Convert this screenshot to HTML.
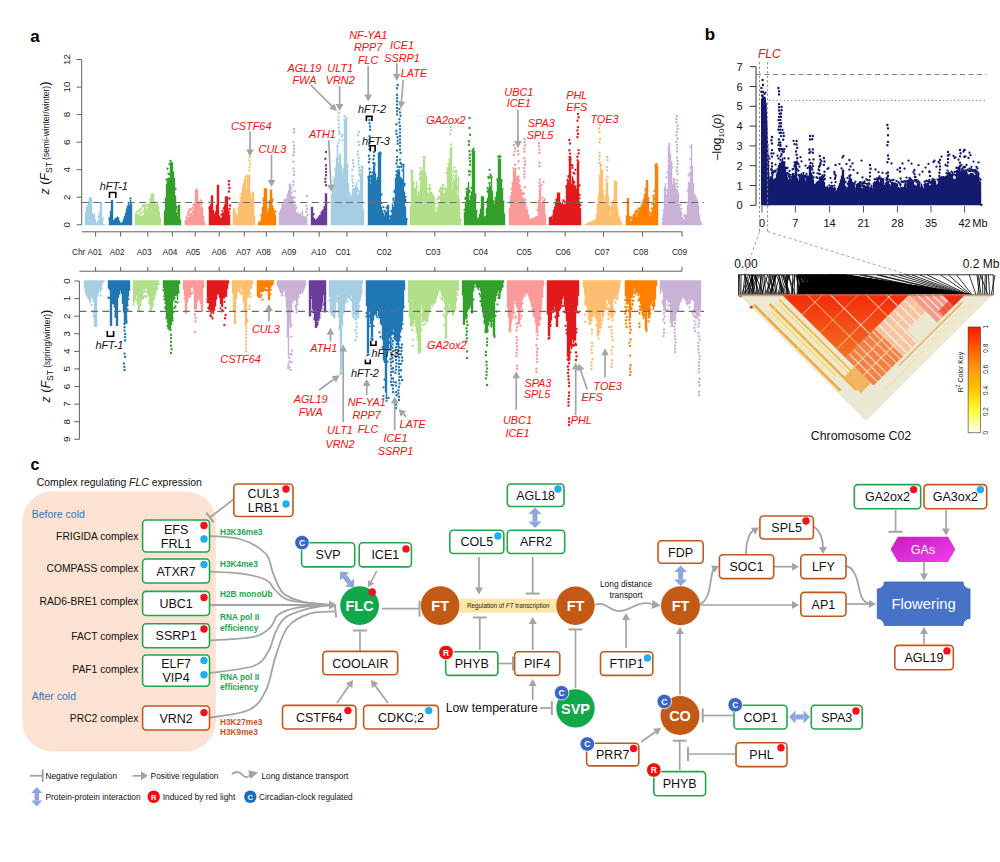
<!DOCTYPE html>
<html><head><meta charset="utf-8"><style>
html,body{margin:0;padding:0;background:#fff;width:1000px;height:862px;overflow:hidden}
svg{display:block;font-family:"Liberation Sans", sans-serif}
</style></head><body>
<svg width="1000" height="862" viewBox="0 0 1000 862">
<rect width="1000" height="862" fill="#fff"/>
<path d="M85.5 225.2V212.0M86.5 225.2V206.6M87.5 225.2V205.1M88.5 225.2V203.8M89.5 225.2V197.2M90.5 225.2V197.2M91.5 225.2V197.2M92.5 225.2V213.1M93.5 225.2V213.9M94.5 225.2V213.7M95.5 225.2V219.2M96.5 225.2V223.2M97.5 225.2V221.5M98.5 225.2V219.6M99.5 225.2V215.5M100.5 225.2V202.0M101.5 225.2V202.0M102.5 225.2V220.2M103.5 225.2V223.8M104.5 225.2V224.3M105.5 225.2V224.7" stroke="#a6cee3" stroke-width="1.4" fill="none"/><path d="M88.5 202.7h0M98.5 217.0h0M99.5 213.7h0M99.5 214.8h0M99.5 214.0h0M102.5 218.3h0M102.5 218.9h0M102.5 219.5h0" stroke="#a6cee3" stroke-width="2.3" stroke-linecap="round" fill="none"/>
<path d="" stroke="#a6cee3" stroke-width="2.4" stroke-linecap="round" fill="none"/>
<path d="M109.5 225.2V220.1M110.5 225.2V210.9M111.5 225.2V200.0M112.5 225.2V200.0M113.5 225.2V220.4M114.5 225.2V219.3M115.5 225.2V217.9M116.5 225.2V217.4M117.5 225.2V216.5M118.5 225.2V217.6M119.5 225.2V220.6M120.5 225.2V222.4M121.5 225.2V222.9M122.5 225.2V221.8M123.5 225.2V218.8M124.5 225.2V215.9M125.5 225.2V212.8M126.5 225.2V208.5M127.5 225.2V205.5M128.5 225.2V203.1M129.5 225.2V207.7M130.5 225.2V199.7M131.5 225.2V203.5" stroke="#1f78b4" stroke-width="1.4" fill="none"/><path d="M109.5 219.4h0M109.5 218.5h0M129.5 206.3h0M129.5 207.2h0M130.5 198.4h0" stroke="#1f78b4" stroke-width="2.3" stroke-linecap="round" fill="none"/>
<path d="" stroke="#1f78b4" stroke-width="2.4" stroke-linecap="round" fill="none"/>
<path d="M135.5 225.2V213.0M136.5 225.2V211.6M137.5 225.2V215.6M138.5 225.2V215.0M139.5 225.2V214.6M140.5 225.2V216.2M141.5 225.2V215.7M142.5 225.2V215.2M143.5 225.2V214.9M144.5 225.2V205.0M145.5 225.2V204.0M146.5 225.2V210.5M147.5 225.2V210.1M148.5 225.2V209.5M149.5 225.2V202.1M150.5 225.2V200.6M151.5 225.2V193.3M152.5 225.2V193.3M153.5 225.2V193.3M154.5 225.2V200.9M155.5 225.2V206.7M156.5 225.2V206.9M157.5 225.2V203.0M158.5 225.2V206.0M159.5 225.2V211.5M160.5 225.2V217.7" stroke="#b2df8a" stroke-width="1.4" fill="none"/><path d="M137.5 215.1h0M137.5 211.3h0M139.5 210.3h0M139.5 211.6h0M140.5 208.8h0M140.5 209.5h0M140.5 213.8h0M141.5 213.2h0M142.5 206.3h0M142.5 206.8h0M143.5 211.5h0M143.5 204.9h0M143.5 211.2h0M146.5 205.6h0M147.5 208.8h0M147.5 204.8h0M147.5 204.5h0M148.5 205.6h0M148.5 209.1h0M148.5 206.9h0M150.5 198.6h0M150.5 199.7h0M150.5 199.7h0M155.5 204.8h0M156.5 205.0h0M156.5 205.9h0M156.5 206.4h0" stroke="#b2df8a" stroke-width="2.3" stroke-linecap="round" fill="none"/>
<path d="" stroke="#b2df8a" stroke-width="2.4" stroke-linecap="round" fill="none"/>
<path d="M164.5 225.2V210.5M165.5 225.2V198.1M166.5 225.2V183.7M167.5 225.2V179.6M168.5 225.2V179.2M169.5 225.2V177.7M170.5 225.2V162.6M171.5 225.2V161.7M172.5 225.2V162.6M173.5 225.2V171.6M174.5 225.2V177.7M175.5 225.2V195.6M176.5 225.2V212.1M177.5 225.2V215.4M178.5 225.2V204.8M179.5 225.2V204.8M180.5 225.2V219.4" stroke="#33a02c" stroke-width="1.4" fill="none"/><path d="M166.5 179.7h0M167.5 168.6h0M167.5 168.8h0M167.5 179.4h0M168.5 178.7h0M168.5 174.0h0M169.5 174.0h0M169.5 164.2h0M170.5 160.9h0M175.5 188.9h0M176.5 206.6h0M176.5 208.0h0M177.5 210.5h0M177.5 213.3h0" stroke="#33a02c" stroke-width="2.3" stroke-linecap="round" fill="none"/>
<path d="" stroke="#33a02c" stroke-width="2.4" stroke-linecap="round" fill="none"/>
<path d="M185.5 225.2V221.2M186.5 225.2V219.7M187.5 225.2V218.6M188.5 225.2V217.0M189.5 225.2V216.7M190.5 225.2V215.7M191.5 225.2V215.1M192.5 225.2V215.0M193.5 225.2V209.4M194.5 225.2V205.6M195.5 225.2V189.5M196.5 225.2V188.4M197.5 225.2V189.5M198.5 225.2V201.1M199.5 225.2V202.3M200.5 225.2V207.1M201.5 225.2V199.9M202.5 225.2V207.4M203.5 225.2V216.0M204.5 225.2V221.5M205.5 225.2V224.7" stroke="#fb9a99" stroke-width="1.4" fill="none"/><path d="M185.5 220.9h0M186.5 217.8h0M186.5 217.1h0M187.5 214.8h0M188.5 211.5h0M188.5 212.8h0M189.5 215.0h0M189.5 209.3h0M189.5 214.7h0M190.5 210.0h0M191.5 208.8h0M191.5 214.2h0M192.5 208.0h0M192.5 211.9h0M193.5 205.2h0M194.5 203.6h0M200.5 200.3h0M200.5 203.3h0" stroke="#fb9a99" stroke-width="2.3" stroke-linecap="round" fill="none"/>
<path d="" stroke="#fb9a99" stroke-width="2.4" stroke-linecap="round" fill="none"/>
<path d="M209.5 225.2V209.0M210.5 225.2V204.0M211.5 225.2V195.2M212.5 225.2V195.2M213.5 225.2V210.1M214.5 225.2V214.1M215.5 225.2V211.4M216.5 225.2V204.4M217.5 225.2V184.7M218.5 225.2V184.7M219.5 225.2V215.6M220.5 225.2V218.1M221.5 225.2V217.3M222.5 225.2V214.3M223.5 225.2V212.3M224.5 225.2V204.6M225.5 225.2V196.2M226.5 225.2V196.2M227.5 225.2V196.2M228.5 225.2V210.4M229.5 225.2V217.2M230.5 225.2V225.1" stroke="#e31a1c" stroke-width="1.4" fill="none"/><path d="M209.5 207.5h0M209.5 208.4h0M221.5 214.6h0M222.5 211.1h0M222.5 214.0h0M223.5 208.3h0M223.5 208.3h0" stroke="#e31a1c" stroke-width="2.3" stroke-linecap="round" fill="none"/>
<path d="M229.5 216.0h0M228.9 212.5h0M229.5 209.0h0M230.1 205.5h0M229.5 198.5h0M228.9 191.5h0M229.5 188.0h0M228.9 184.5h0M228.9 181.0h0" stroke="#e31a1c" stroke-width="2.4" stroke-linecap="round" fill="none"/>
<path d="M233.5 225.2V207.7M234.5 225.2V207.7M235.5 225.2V211.7M236.5 225.2V214.9M237.5 225.2V213.7M238.5 225.2V210.0M239.5 225.2V205.1M240.5 225.2V199.5M241.5 225.2V195.8M242.5 225.2V187.1M243.5 225.2V182.6M244.5 225.2V178.9M245.5 225.2V178.2M246.5 225.2V189.2M247.5 225.2V176.9M248.5 225.2V175.4M249.5 225.2V174.5M250.5 225.2V192.7M251.5 225.2V198.4M252.5 225.2V191.4M253.5 225.2V191.4M254.5 225.2V216.0" stroke="#fdbf6f" stroke-width="1.4" fill="none"/><path d="M238.5 208.0h0M238.5 209.9h0M239.5 204.2h0M239.5 203.2h0M240.5 197.7h0M241.5 194.1h0M241.5 193.5h0M245.5 177.0h0M247.5 176.0h0M247.5 175.5h0" stroke="#fdbf6f" stroke-width="2.3" stroke-linecap="round" fill="none"/>
<path d="M249.5 170.6h0M249.5 167.2h0M250.1 163.8h0M249.5 160.4h0M249.5 157.0h0" stroke="#fdbf6f" stroke-width="2.4" stroke-linecap="round" fill="none"/>
<path d="M258.5 225.2V222.3M259.5 225.2V221.5M260.5 225.2V220.5M261.5 225.2V216.6M262.5 225.2V207.1M263.5 225.2V200.4M264.5 225.2V188.5M265.5 225.2V188.1M266.5 225.2V188.5M267.5 225.2V213.2M268.5 225.2V214.1M269.5 225.2V199.9M270.5 225.2V189.5M271.5 225.2V189.5M272.5 225.2V205.1M273.5 225.2V208.1M274.5 225.2V211.5M275.5 225.2V214.7" stroke="#ff7f00" stroke-width="1.4" fill="none"/><path d="M261.5 215.6h0M261.5 215.5h0M261.5 215.2h0M263.5 200.4h0M263.5 198.3h0M268.5 209.8h0M268.5 212.9h0M268.5 210.8h0M272.5 199.4h0M272.5 200.8h0M275.5 211.5h0" stroke="#ff7f00" stroke-width="2.3" stroke-linecap="round" fill="none"/>
<path d="" stroke="#ff7f00" stroke-width="2.4" stroke-linecap="round" fill="none"/>
<path d="M279.5 225.2V212.2M280.5 225.2V209.7M281.5 225.2V208.1M282.5 225.2V206.9M283.5 225.2V204.8M284.5 225.2V202.6M285.5 225.2V199.4M286.5 225.2V198.0M287.5 225.2V195.0M288.5 225.2V190.2M289.5 225.2V183.7M290.5 225.2V183.7M291.5 225.2V195.6M292.5 225.2V196.4M293.5 225.2V204.8M294.5 225.2V205.4M295.5 225.2V207.8M296.5 225.2V212.2M297.5 225.2V211.9M298.5 225.2V217.8M299.5 225.2V213.7M300.5 225.2V212.6M301.5 225.2V217.4M302.5 225.2V210.5M303.5 225.2V217.4M304.5 225.2V218.9M305.5 225.2V220.3M306.5 225.2V222.3M307.5 225.2V224.1" stroke="#cab2d6" stroke-width="1.4" fill="none"/><path d="M282.5 206.8h0M282.5 204.3h0M282.5 206.0h0M284.5 202.3h0M284.5 200.6h0M284.5 200.1h0M287.5 194.8h0M291.5 188.4h0M291.5 192.5h0M293.5 197.5h0M293.5 200.9h0M294.5 205.0h0M294.5 197.7h0M295.5 205.5h0M296.5 207.7h0M298.5 214.8h0M298.5 216.3h0M301.5 216.6h0M303.5 217.4h0M304.5 218.9h0M304.5 217.2h0M305.5 217.4h0M306.5 221.5h0M306.5 220.2h0" stroke="#cab2d6" stroke-width="2.3" stroke-linecap="round" fill="none"/>
<path d="M294.6 191.3h0M293.4 184.8h0M293.4 181.5h0M294.0 174.9h0M294.0 171.6h0M293.4 168.4h0M293.4 161.8h0M293.4 155.2h0M294.0 152.0h0M294.0 148.7h0M294.0 145.4h0M293.4 142.1h0M294.0 132.3h0M294.0 129.0h0M306.4 218.5h0M307.6 215.2h0M306.4 212.0h0M307.0 208.8h0M306.4 205.6h0M307.0 196.0h0" stroke="#cab2d6" stroke-width="2.4" stroke-linecap="round" fill="none"/>
<path d="M311.5 225.2V206.8M312.5 225.2V206.8M313.5 225.2V216.8M314.5 225.2V218.3M315.5 225.2V219.8M316.5 225.2V218.9M317.5 225.2V217.8M318.5 225.2V216.6M319.5 225.2V215.1M320.5 225.2V214.4M321.5 225.2V213.1M322.5 225.2V210.1M323.5 225.2V208.7M324.5 225.2V207.4M325.5 225.2V193.3M326.5 225.2V193.3" stroke="#6a3d9a" stroke-width="1.4" fill="none"/><path d="M313.5 214.5h0M313.5 213.9h0M321.5 212.7h0M321.5 212.6h0M324.5 207.1h0" stroke="#6a3d9a" stroke-width="2.3" stroke-linecap="round" fill="none"/>
<path d="M326.0 185.3h0M325.4 182.0h0M325.4 178.7h0M326.0 175.3h0M326.0 172.0h0M326.0 168.7h0M326.0 165.3h0M325.4 158.7h0M326.0 152.0h0" stroke="#6a3d9a" stroke-width="2.4" stroke-linecap="round" fill="none"/>
<path d="M331.5 225.2V196.7M332.5 225.2V189.1M333.5 225.2V183.4M334.5 225.2V180.1M335.5 225.2V172.2M336.5 225.2V157.3M337.5 225.2V147.4M338.5 225.2V162.5M339.5 225.2V154.5M340.5 225.2V153.3M341.5 225.2V165.3M342.5 225.2V172.0M343.5 225.2V169.2M344.5 225.2V120.4M345.5 225.2V120.1M346.5 225.2V120.4M347.5 225.2V168.5M348.5 225.2V183.3M349.5 225.2V194.3M350.5 225.2V194.4M351.5 225.2V196.5M352.5 225.2V197.0M353.5 225.2V194.4M354.5 225.2V189.4M355.5 225.2V185.4M356.5 225.2V181.9M357.5 225.2V195.5M358.5 225.2V193.4M359.5 225.2V191.3M360.5 225.2V175.2M361.5 225.2V168.4M362.5 225.2V168.4M363.5 225.2V209.3" stroke="#a6cee3" stroke-width="1.4" fill="none"/><path d="M331.5 195.5h0M332.5 188.5h0M333.5 181.5h0M334.5 178.3h0M334.5 179.8h0M334.5 177.6h0M335.5 169.1h0M335.5 168.5h0M335.5 170.8h0M337.5 146.8h0M337.5 145.7h0M338.5 158.8h0M338.5 142.7h0M339.5 134.2h0M339.5 133.0h0M339.5 140.0h0M341.5 136.6h0M342.5 140.4h0M342.5 134.9h0M343.5 169.1h0M344.5 116.2h0M344.5 120.0h0M344.5 120.0h0M345.5 119.5h0M346.5 120.3h0M346.5 117.9h0M347.5 167.0h0M347.5 165.2h0M347.5 166.6h0M349.5 192.7h0M352.5 196.1h0M352.5 194.6h0M353.5 193.2h0M353.5 190.5h0M353.5 194.1h0M354.5 189.1h0M357.5 188.8h0M357.5 188.5h0M357.5 191.0h0M358.5 180.7h0M358.5 191.2h0M359.5 175.2h0M359.5 174.0h0M360.5 170.5h0M360.5 174.9h0M361.5 166.6h0M362.5 166.6h0M362.5 167.9h0" stroke="#a6cee3" stroke-width="2.3" stroke-linecap="round" fill="none"/>
<path d="M339.0 131.0h0M339.0 127.4h0M339.0 123.8h0M338.4 120.2h0M338.4 116.6h0M339.0 113.0h0M359.1 170.8h0M359.1 167.5h0M358.5 164.3h0M358.5 161.1h0M358.5 157.8h0M357.9 154.6h0M357.9 151.4h0M359.1 144.9h0M358.5 141.7h0M357.9 135.2h0M359.1 132.0h0M353.0 192.3h0M353.0 189.1h0M353.0 185.9h0M353.0 182.6h0M352.4 179.4h0M352.4 176.2h0M352.4 169.7h0M353.6 166.5h0M353.0 163.2h0M353.0 160.0h0" stroke="#a6cee3" stroke-width="2.4" stroke-linecap="round" fill="none"/>
<path d="M367.5 225.2V225.0M368.5 225.2V177.8M369.5 225.2V172.7M370.5 225.2V183.3M371.5 225.2V174.8M372.5 225.2V174.5M373.5 225.2V165.5M374.5 225.2V165.5M375.5 225.2V172.9M376.5 225.2V180.0M377.5 225.2V176.9M378.5 225.2V154.9M379.5 225.2V154.9M380.5 225.2V154.9M381.5 225.2V206.6M382.5 225.2V210.2M383.5 225.2V213.1M384.5 225.2V215.6M385.5 225.2V213.3M386.5 225.2V211.9M387.5 225.2V204.8M388.5 225.2V204.8M389.5 225.2V218.8M390.5 225.2V218.2M391.5 225.2V214.5M392.5 225.2V203.8M393.5 225.2V207.0M394.5 225.2V200.7M395.5 225.2V178.0M396.5 225.2V175.7M397.5 225.2V170.4M398.5 225.2V171.2M399.5 225.2V170.4M400.5 225.2V179.0M401.5 225.2V179.5M402.5 225.2V179.2M403.5 225.2V166.6M404.5 225.2V191.5M405.5 225.2V206.4M406.5 225.2V220.1" stroke="#1f78b4" stroke-width="1.4" fill="none"/><path d="M368.5 176.6h0M368.5 177.6h0M370.5 176.5h0M370.5 180.4h0M372.5 172.7h0M374.5 164.3h0M374.5 165.0h0M374.5 163.3h0M378.5 153.8h0M379.5 154.4h0M379.5 152.7h0M380.5 153.6h0M380.5 154.9h0M380.5 152.7h0M381.5 203.1h0M381.5 194.5h0M383.5 207.1h0M384.5 211.0h0M385.5 213.3h0M385.5 211.9h0M385.5 213.3h0M386.5 207.8h0M389.5 216.3h0M390.5 216.8h0M390.5 217.2h0M391.5 211.5h0M391.5 210.8h0M393.5 200.1h0M393.5 198.5h0M394.5 190.7h0M394.5 192.1h0M396.5 175.0h0M396.5 171.3h0M398.5 170.2h0M398.5 170.0h0M399.5 167.2h0M400.5 178.0h0M401.5 166.8h0M401.5 164.3h0M401.5 179.4h0M402.5 170.4h0M403.5 164.8h0M403.5 165.3h0M403.5 165.7h0M404.5 183.8h0M404.5 185.4h0M405.5 201.9h0M405.5 197.0h0M405.5 200.0h0M406.5 219.0h0M406.5 219.8h0" stroke="#1f78b4" stroke-width="2.3" stroke-linecap="round" fill="none"/>
<path d="M370.1 172.0h0M369.5 168.8h0M368.9 162.2h0M369.5 159.0h0M368.9 155.8h0M369.5 149.2h0M369.5 146.0h0M369.5 142.8h0M369.5 139.5h0M369.5 136.2h0M370.1 129.8h0M370.1 126.5h0M369.5 123.2h0M369.5 120.0h0M373.4 163.0h0M373.4 159.3h0M374.0 155.7h0M374.0 152.0h0M397.6 166.7h0M396.4 163.5h0M397.0 160.2h0M397.0 156.9h0M397.0 150.4h0M397.6 143.8h0M397.6 140.6h0M397.6 137.3h0M396.4 134.0h0M396.4 130.8h0M396.4 124.2h0M397.0 114.4h0M397.0 111.2h0M397.0 107.9h0M397.0 104.6h0M397.0 101.3h0M397.0 98.1h0M397.0 94.8h0M397.0 88.3h0M397.6 85.0h0M400.6 163.0h0M400.0 159.6h0M400.6 152.9h0M400.0 149.5h0M400.0 146.1h0M400.0 142.8h0M400.0 139.4h0M400.0 136.0h0M400.0 132.6h0M400.0 129.2h0M400.0 125.9h0M399.4 122.5h0M399.4 119.1h0M400.6 115.8h0M400.0 112.4h0M399.4 109.0h0" stroke="#1f78b4" stroke-width="2.4" stroke-linecap="round" fill="none"/>
<path d="M410.5 225.2V206.0M411.5 225.2V172.2M412.5 225.2V172.2M413.5 225.2V183.3M414.5 225.2V188.7M415.5 225.2V189.8M416.5 225.2V180.9M417.5 225.2V195.9M418.5 225.2V191.5M419.5 225.2V190.4M420.5 225.2V170.4M421.5 225.2V169.2M422.5 225.2V171.2M423.5 225.2V158.8M424.5 225.2V158.8M425.5 225.2V174.3M426.5 225.2V175.9M427.5 225.2V192.1M428.5 225.2V193.6M429.5 225.2V188.6M430.5 225.2V191.9M431.5 225.2V191.4M432.5 225.2V193.8M433.5 225.2V194.7M434.5 225.2V197.2M435.5 225.2V211.3M436.5 225.2V212.1M437.5 225.2V210.6M438.5 225.2V204.2M439.5 225.2V202.0M440.5 225.2V190.8M441.5 225.2V187.0M442.5 225.2V185.8M443.5 225.2V194.3M444.5 225.2V192.5M445.5 225.2V191.1M446.5 225.2V188.0M447.5 225.2V169.1M448.5 225.2V165.1M449.5 225.2V159.7M450.5 225.2V151.1M451.5 225.2V151.1M452.5 225.2V189.6M453.5 225.2V178.2M454.5 225.2V180.1M455.5 225.2V174.7M456.5 225.2V172.8M457.5 225.2V194.9M458.5 225.2V181.2M459.5 225.2V199.1M460.5 225.2V220.6" stroke="#b2df8a" stroke-width="1.4" fill="none"/><path d="M411.5 171.8h0M411.5 170.5h0M411.5 170.4h0M412.5 171.8h0M413.5 181.9h0M413.5 183.2h0M413.5 182.9h0M415.5 189.0h0M417.5 187.1h0M419.5 178.3h0M419.5 174.1h0M420.5 168.0h0M423.5 157.2h0M424.5 157.5h0M424.5 157.0h0M424.5 156.9h0M425.5 173.3h0M427.5 188.9h0M429.5 188.4h0M429.5 185.0h0M429.5 187.4h0M430.5 188.8h0M435.5 203.8h0M436.5 208.2h0M437.5 199.5h0M437.5 210.5h0M438.5 203.2h0M438.5 198.8h0M438.5 197.2h0M439.5 191.2h0M439.5 197.1h0M440.5 189.2h0M440.5 187.8h0M442.5 185.2h0M443.5 193.9h0M443.5 188.6h0M443.5 184.8h0M444.5 187.9h0M444.5 189.4h0M445.5 189.7h0M446.5 173.2h0M447.5 168.1h0M448.5 164.2h0M449.5 159.1h0M450.5 149.6h0M450.5 149.7h0M451.5 150.2h0M452.5 177.5h0M452.5 183.7h0M452.5 171.6h0M453.5 174.8h0M454.5 167.4h0M454.5 171.5h0M455.5 171.4h0M455.5 172.1h0M456.5 170.9h0M456.5 170.9h0M457.5 188.9h0M457.5 186.8h0M458.5 180.5h0M458.5 178.1h0M460.5 219.5h0M460.5 220.5h0" stroke="#b2df8a" stroke-width="2.3" stroke-linecap="round" fill="none"/>
<path d="M451.6 148.0h0M451.0 144.5h0M450.4 134.0h0M451.0 130.5h0M451.0 127.0h0" stroke="#b2df8a" stroke-width="2.4" stroke-linecap="round" fill="none"/>
<path d="M464.5 225.2V212.0M465.5 225.2V201.9M466.5 225.2V190.9M467.5 225.2V189.2M468.5 225.2V181.8M469.5 225.2V200.3M470.5 225.2V195.6M471.5 225.2V191.5M472.5 225.2V151.1M473.5 225.2V151.1M474.5 225.2V151.1M475.5 225.2V198.3M476.5 225.2V211.4M477.5 225.2V218.7M478.5 225.2V220.6M479.5 225.2V213.8M480.5 225.2V208.4M481.5 225.2V196.2M482.5 225.2V196.2M483.5 225.2V196.2M484.5 225.2V217.2M485.5 225.2V217.1M486.5 225.2V207.8M487.5 225.2V197.9M488.5 225.2V189.6M489.5 225.2V183.1M490.5 225.2V186.6M491.5 225.2V178.1M492.5 225.2V190.7M493.5 225.2V201.8M494.5 225.2V203.8M495.5 225.2V198.6M496.5 225.2V191.4M497.5 225.2V180.7M498.5 225.2V158.8M499.5 225.2V158.8M500.5 225.2V158.8M501.5 225.2V181.2M502.5 225.2V190.7M503.5 225.2V202.1M504.5 225.2V213.6" stroke="#33a02c" stroke-width="1.4" fill="none"/><path d="M464.5 209.8h0M465.5 198.1h0M465.5 199.0h0M466.5 188.9h0M467.5 188.7h0M469.5 190.9h0M469.5 192.0h0M470.5 171.6h0M471.5 187.8h0M472.5 150.7h0M473.5 149.0h0M473.5 151.1h0M475.5 197.7h0M475.5 195.6h0M475.5 194.7h0M476.5 211.0h0M478.5 219.5h0M478.5 218.6h0M478.5 218.3h0M485.5 216.9h0M485.5 216.9h0M486.5 202.0h0M486.5 202.4h0M487.5 188.2h0M487.5 191.5h0M488.5 189.1h0M488.5 177.9h0M488.5 176.9h0M489.5 169.8h0M489.5 183.1h0M489.5 177.7h0M490.5 175.1h0M490.5 174.6h0M491.5 176.9h0M493.5 201.8h0M493.5 201.1h0M493.5 201.6h0M495.5 198.1h0M497.5 179.5h0M497.5 180.3h0M498.5 156.4h0M498.5 157.3h0M499.5 157.0h0M500.5 156.5h0M501.5 180.2h0M501.5 180.7h0M501.5 180.9h0M502.5 189.4h0M503.5 201.6h0" stroke="#33a02c" stroke-width="2.3" stroke-linecap="round" fill="none"/>
<path d="M469.5 174.7h0M468.9 171.3h0M470.1 164.7h0M470.1 161.3h0M469.5 158.0h0M470.1 154.7h0M469.5 151.3h0M468.9 144.7h0M468.9 141.3h0M470.1 134.7h0M469.5 128.0h0M469.5 118.0h0" stroke="#33a02c" stroke-width="2.4" stroke-linecap="round" fill="none"/>
<path d="M509.5 225.2V208.0M510.5 225.2V200.4M511.5 225.2V191.9M512.5 225.2V184.1M513.5 225.2V170.3M514.5 225.2V170.3M515.5 225.2V170.3M516.5 225.2V178.8M517.5 225.2V177.9M518.5 225.2V180.6M519.5 225.2V184.0M520.5 225.2V188.6M521.5 225.2V193.0M522.5 225.2V196.9M523.5 225.2V199.8M524.5 225.2V201.8M525.5 225.2V208.8M526.5 225.2V206.3M527.5 225.2V209.5M528.5 225.2V214.0M529.5 225.2V217.9M530.5 225.2V219.3M531.5 225.2V218.6M532.5 225.2V218.4M533.5 225.2V217.6M534.5 225.2V217.4M535.5 225.2V216.6M536.5 225.2V216.1M537.5 225.2V216.0M538.5 225.2V199.6M539.5 225.2V189.0M540.5 225.2V188.9M541.5 225.2V203.4M542.5 225.2V203.1M543.5 225.2V202.5M544.5 225.2V200.9M545.5 225.2V214.1" stroke="#fb9a99" stroke-width="1.4" fill="none"/><path d="M510.5 197.1h0M510.5 200.1h0M510.5 200.1h0M511.5 189.1h0M512.5 182.9h0M513.5 168.1h0M513.5 168.4h0M514.5 169.5h0M515.5 169.4h0M515.5 168.8h0M516.5 178.6h0M517.5 177.6h0M517.5 177.1h0M518.5 179.7h0M518.5 176.3h0M518.5 177.1h0M519.5 180.6h0M520.5 186.6h0M521.5 190.4h0M522.5 194.2h0M522.5 193.2h0M523.5 198.4h0M525.5 205.3h0M525.5 203.4h0M537.5 210.0h0M540.5 185.7h0M540.5 188.2h0M541.5 184.8h0M542.5 197.7h0M543.5 182.0h0M543.5 201.4h0M544.5 199.3h0M544.5 199.7h0" stroke="#fb9a99" stroke-width="2.3" stroke-linecap="round" fill="none"/>
<path d="M515.1 164.7h0M513.9 154.9h0M514.5 151.6h0M515.1 148.3h0M513.9 145.0h0M519.1 168.1h0M518.5 161.3h0M518.5 154.4h0M517.9 151.0h0M525.1 200.0h0M523.9 193.6h0M525.1 187.2h0M524.5 177.5h0M524.5 174.3h0M524.5 171.1h0M523.9 167.9h0M525.1 164.7h0M525.1 161.5h0M524.5 158.3h0M524.5 151.8h0M523.9 148.6h0M525.1 145.4h0M524.5 142.2h0M524.5 139.0h0M539.5 186.0h0M539.5 182.7h0M540.1 179.4h0M539.5 166.2h0M539.5 162.8h0M539.5 152.9h0M539.5 149.6h0M538.9 146.3h0M538.9 143.0h0" stroke="#fb9a99" stroke-width="2.4" stroke-linecap="round" fill="none"/>
<path d="M549.5 225.2V216.9M550.5 225.2V216.9M551.5 225.2V216.4M552.5 225.2V218.2M553.5 225.2V210.1M554.5 225.2V206.8M555.5 225.2V202.9M556.5 225.2V200.0M557.5 225.2V192.4M558.5 225.2V192.4M559.5 225.2V192.4M560.5 225.2V202.3M561.5 225.2V203.9M562.5 225.2V201.7M563.5 225.2V204.8M564.5 225.2V203.7M565.5 225.2V204.2M566.5 225.2V187.8M567.5 225.2V181.7M568.5 225.2V182.7M569.5 225.2V159.7M570.5 225.2V159.7M571.5 225.2V183.8M572.5 225.2V176.2M573.5 225.2V179.4M574.5 225.2V186.3M575.5 225.2V186.4M576.5 225.2V188.7M577.5 225.2V162.6M578.5 225.2V162.6M579.5 225.2V201.3M580.5 225.2V208.2" stroke="#e31a1c" stroke-width="1.4" fill="none"/><path d="M552.5 216.5h0M556.5 199.4h0M556.5 200.0h0M563.5 200.4h0M564.5 201.6h0M566.5 187.2h0M566.5 185.8h0M566.5 186.8h0M567.5 180.2h0M567.5 179.8h0M568.5 176.0h0M568.5 176.9h0M568.5 181.8h0M569.5 159.3h0M569.5 159.4h0M569.5 157.1h0M570.5 159.4h0M570.5 158.3h0M571.5 164.9h0M572.5 165.4h0M572.5 167.9h0M573.5 172.9h0M573.5 172.9h0M574.5 173.7h0M574.5 182.3h0M575.5 185.8h0M575.5 169.8h0M577.5 160.3h0M578.5 161.9h0M579.5 198.3h0M579.5 185.5h0M579.5 195.0h0M580.5 205.2h0" stroke="#e31a1c" stroke-width="2.3" stroke-linecap="round" fill="none"/>
<path d="M570.0 157.0h0M570.0 153.6h0M569.4 150.2h0M570.0 143.4h0M569.4 140.0h0M577.4 156.7h0M578.6 153.4h0M578.6 150.1h0M577.4 137.0h0M578.0 133.7h0M577.4 130.4h0M578.0 127.1h0M577.4 120.6h0M578.6 117.3h0M578.0 114.0h0" stroke="#e31a1c" stroke-width="2.4" stroke-linecap="round" fill="none"/>
<path d="M584.5 225.2V225.0M585.5 225.2V224.3M586.5 225.2V223.7M587.5 225.2V222.9M588.5 225.2V222.3M589.5 225.2V221.5M590.5 225.2V222.1M591.5 225.2V221.8M592.5 225.2V220.6M593.5 225.2V220.4M594.5 225.2V220.0M595.5 225.2V219.5M596.5 225.2V214.2M597.5 225.2V203.2M598.5 225.2V194.9M599.5 225.2V177.7M600.5 225.2V163.3M601.5 225.2V169.4M602.5 225.2V169.4M603.5 225.2V193.9M604.5 225.2V203.5M605.5 225.2V194.9M606.5 225.2V181.8M607.5 225.2V181.8M608.5 225.2V195.6M609.5 225.2V205.6M610.5 225.2V215.6M611.5 225.2V204.5M612.5 225.2V205.8M613.5 225.2V201.5M614.5 225.2V180.8M615.5 225.2V180.8M616.5 225.2V180.8M617.5 225.2V206.8M618.5 225.2V215.0M619.5 225.2V217.1M620.5 225.2V219.9M621.5 225.2V222.5" stroke="#fdbf6f" stroke-width="1.4" fill="none"/><path d="M599.5 176.1h0M601.5 165.4h0M603.5 191.4h0M610.5 209.7h0M610.5 208.3h0M612.5 204.6h0M613.5 200.8h0" stroke="#fdbf6f" stroke-width="2.3" stroke-linecap="round" fill="none"/>
<path d="M599.5 163.0h0M599.5 159.5h0M599.5 156.1h0M599.5 152.6h0M599.5 142.3h0M600.1 138.8h0M599.5 131.9h0M598.9 128.5h0M600.1 125.0h0M606.4 180.0h0M607.6 176.7h0M607.0 170.1h0M607.0 166.9h0M607.6 160.3h0M607.0 157.0h0" stroke="#fdbf6f" stroke-width="2.4" stroke-linecap="round" fill="none"/>
<path d="M625.5 225.2V225.0M626.5 225.2V215.5M627.5 225.2V198.1M628.5 225.2V198.1M629.5 225.2V216.0M630.5 225.2V221.3M631.5 225.2V220.4M632.5 225.2V219.7M633.5 225.2V216.9M634.5 225.2V215.9M635.5 225.2V214.8M636.5 225.2V216.7M637.5 225.2V216.0M638.5 225.2V211.0M639.5 225.2V208.2M640.5 225.2V207.0M641.5 225.2V204.8M642.5 225.2V201.4M643.5 225.2V198.8M644.5 225.2V194.1M645.5 225.2V192.4M646.5 225.2V179.9M647.5 225.2V179.9M648.5 225.2V199.2M649.5 225.2V214.5M650.5 225.2V216.4M651.5 225.2V212.8M652.5 225.2V209.3M653.5 225.2V195.6M654.5 225.2V202.9M655.5 225.2V165.5M656.5 225.2V165.5M657.5 225.2V165.5M658.5 225.2V225.1" stroke="#ff7f00" stroke-width="1.4" fill="none"/><path d="M630.5 218.5h0M631.5 217.4h0M632.5 218.5h0M633.5 215.8h0M634.5 215.9h0M634.5 214.3h0M635.5 212.2h0M635.5 214.2h0M636.5 210.4h0M636.5 210.4h0M637.5 211.7h0M637.5 214.7h0M638.5 208.4h0M638.5 208.6h0M645.5 190.5h0M645.5 188.8h0M648.5 198.1h0M649.5 212.6h0M650.5 213.1h0M650.5 216.3h0M651.5 208.5h0M652.5 203.9h0M653.5 195.3h0M654.5 198.6h0M654.5 191.0h0M655.5 165.0h0M656.5 164.0h0M656.5 164.7h0" stroke="#ff7f00" stroke-width="2.3" stroke-linecap="round" fill="none"/>
<path d="" stroke="#ff7f00" stroke-width="2.4" stroke-linecap="round" fill="none"/>
<path d="M662.5 225.2V221.3M663.5 225.2V212.3M664.5 225.2V187.2M665.5 225.2V182.9M666.5 225.2V195.0M667.5 225.2V189.4M668.5 225.2V145.3M669.5 225.2V145.3M670.5 225.2V153.4M671.5 225.2V164.9M672.5 225.2V184.3M673.5 225.2V177.4M674.5 225.2V182.1M675.5 225.2V185.9M676.5 225.2V191.0M677.5 225.2V191.2M678.5 225.2V193.1M679.5 225.2V206.0M680.5 225.2V208.4M681.5 225.2V212.1M682.5 225.2V217.0M683.5 225.2V219.4M684.5 225.2V218.8M685.5 225.2V214.9M686.5 225.2V214.6M687.5 225.2V204.7M688.5 225.2V181.8M689.5 225.2V182.4M690.5 225.2V171.4M691.5 225.2V144.1M692.5 225.2V165.7M693.5 225.2V186.2M694.5 225.2V199.9M695.5 225.2V200.1M696.5 225.2V200.4M697.5 225.2V199.6M698.5 225.2V205.8M699.5 225.2V214.8M700.5 225.2V220.6M701.5 225.2V222.8" stroke="#cab2d6" stroke-width="1.4" fill="none"/><path d="M662.5 218.8h0M663.5 210.6h0M666.5 177.4h0M666.5 190.1h0M667.5 172.5h0M669.5 144.0h0M671.5 162.3h0M671.5 163.9h0M672.5 167.5h0M674.5 179.6h0M674.5 179.7h0M675.5 184.2h0M676.5 190.6h0M679.5 205.4h0M680.5 204.9h0M681.5 208.7h0M684.5 216.4h0M684.5 215.1h0M687.5 190.6h0M687.5 202.6h0M688.5 175.7h0M689.5 173.4h0M690.5 159.1h0M690.5 167.7h0M690.5 146.8h0M693.5 184.4h0M693.5 186.1h0M694.5 196.4h0M694.5 198.7h0M694.5 195.3h0M695.5 196.4h0M695.5 196.8h0M695.5 198.0h0M696.5 199.6h0" stroke="#cab2d6" stroke-width="2.3" stroke-linecap="round" fill="none"/>
<path d="M677.0 190.0h0M677.6 186.8h0M677.0 183.6h0M677.0 180.3h0M677.6 173.9h0M677.0 170.7h0M677.0 167.5h0M677.6 164.3h0M677.6 161.0h0M677.0 157.8h0M677.0 151.4h0M677.0 148.2h0M677.0 145.0h0M676.4 141.7h0M677.6 138.5h0M676.4 135.3h0M677.0 132.1h0M677.6 128.9h0M677.6 125.7h0M676.4 122.4h0M676.4 119.2h0M677.0 116.0h0" stroke="#cab2d6" stroke-width="2.4" stroke-linecap="round" fill="none"/>
<path d="M84.5 280.2V288.6M85.5 280.2V293.1M86.5 280.2V296.1M87.5 280.2V294.9M88.5 280.2V297.1M89.5 280.2V302.1M90.5 280.2V303.3M91.5 280.2V296.5M92.5 280.2V298.9M93.5 280.2V302.1M94.5 280.2V327.0M95.5 280.2V327.0M96.5 280.2V327.0M97.5 280.2V296.9M98.5 280.2V294.1M99.5 280.2V290.2M100.5 280.2V292.4M101.5 280.2V287.0M102.5 280.2V283.7M103.5 280.2V282.0M104.5 280.2V280.7" stroke="#a6cee3" stroke-width="1.4" fill="none"/><path d="M87.5 296.0h0M87.5 295.1h0M88.5 298.1h0M88.5 297.8h0M88.5 298.3h0M91.5 305.1h0M93.5 312.0h0M93.5 316.0h0M100.5 295.6h0M101.5 288.3h0M101.5 288.8h0" stroke="#a6cee3" stroke-width="2.3" stroke-linecap="round" fill="none"/>
<path d="" stroke="#a6cee3" stroke-width="2.4" stroke-linecap="round" fill="none"/>
<path d="M107.5 280.2V280.2M108.5 280.2V288.5M109.5 280.2V290.2M110.5 280.2V326.1M111.5 280.2V326.1M112.5 280.2V304.1M113.5 280.2V304.4M114.5 280.2V307.9M115.5 280.2V313.9M116.5 280.2V326.1M117.5 280.2V326.1M118.5 280.2V297.9M119.5 280.2V294.4M120.5 280.2V290.7M121.5 280.2V294.0M122.5 280.2V303.9M123.5 280.2V312.5M124.5 280.2V323.8M125.5 280.2V320.5M126.5 280.2V321.3M127.5 280.2V304.9M128.5 280.2V296.8M129.5 280.2V290.9" stroke="#1f78b4" stroke-width="1.4" fill="none"/><path d="M108.5 297.7h0M109.5 298.1h0M115.5 316.9h0M115.5 315.5h0M115.5 314.3h0M125.5 321.4h0M126.5 322.8h0M126.5 321.7h0M127.5 309.5h0M127.5 305.4h0M128.5 299.1h0" stroke="#1f78b4" stroke-width="2.3" stroke-linecap="round" fill="none"/>
<path d="M124.5 324.0h0M124.5 327.3h0M124.5 330.6h0M125.1 333.9h0M125.1 337.1h0M125.1 340.4h0M124.5 353.6h0M125.1 356.9h0M123.9 363.4h0M124.5 366.7h0M124.5 370.0h0" stroke="#1f78b4" stroke-width="2.4" stroke-linecap="round" fill="none"/>
<path d="M133.5 280.2V305.9M134.5 280.2V301.8M135.5 280.2V300.1M136.5 280.2V295.4M137.5 280.2V304.5M138.5 280.2V311.7M139.5 280.2V311.7M140.5 280.2V304.0M141.5 280.2V300.8M142.5 280.2V298.8M143.5 280.2V289.6M144.5 280.2V289.3M145.5 280.2V289.0M146.5 280.2V288.6M147.5 280.2V292.3M148.5 280.2V293.9M149.5 280.2V301.9M150.5 280.2V310.7M151.5 280.2V310.7M152.5 280.2V304.8M153.5 280.2V299.8M154.5 280.2V299.0M155.5 280.2V295.2M156.5 280.2V291.1M157.5 280.2V283.8M158.5 280.2V282.3" stroke="#b2df8a" stroke-width="1.4" fill="none"/><path d="M136.5 300.3h0M136.5 299.6h0M140.5 305.0h0M143.5 292.3h0M143.5 298.4h0M143.5 297.2h0M144.5 290.3h0M144.5 296.0h0M145.5 291.6h0M146.5 296.5h0M146.5 296.7h0M147.5 292.8h0M147.5 293.0h0M148.5 294.7h0M149.5 302.4h0M149.5 303.7h0M152.5 307.0h0M152.5 304.9h0M153.5 304.1h0M153.5 300.1h0M157.5 288.1h0M157.5 284.3h0M157.5 283.9h0M158.5 284.0h0M158.5 284.2h0" stroke="#b2df8a" stroke-width="2.3" stroke-linecap="round" fill="none"/>
<path d="" stroke="#b2df8a" stroke-width="2.4" stroke-linecap="round" fill="none"/>
<path d="M162.5 280.2V280.2M163.5 280.2V287.9M164.5 280.2V295.4M165.5 280.2V302.0M166.5 280.2V317.0M167.5 280.2V322.9M168.5 280.2V323.9M169.5 280.2V326.9M170.5 280.2V328.2M171.5 280.2V324.9M172.5 280.2V318.6M173.5 280.2V299.0M174.5 280.2V296.4M175.5 280.2V296.0M176.5 280.2V295.6M177.5 280.2V300.0M178.5 280.2V292.2M179.5 280.2V282.8" stroke="#33a02c" stroke-width="1.4" fill="none"/><path d="M163.5 290.0h0M164.5 296.5h0M164.5 299.4h0M165.5 308.5h0M165.5 303.4h0M165.5 306.8h0M166.5 317.9h0M167.5 326.1h0M168.5 326.8h0M168.5 324.4h0M168.5 328.3h0M169.5 329.2h0M169.5 327.0h0M170.5 329.4h0M170.5 330.2h0M172.5 320.6h0M172.5 318.7h0M173.5 299.9h0M173.5 311.8h0M174.5 308.0h0M174.5 298.0h0M175.5 306.3h0M175.5 301.9h0M177.5 302.5h0M178.5 292.4h0M179.5 282.9h0" stroke="#33a02c" stroke-width="2.3" stroke-linecap="round" fill="none"/>
<path d="M171.0 334.7h0M171.0 338.3h0M171.0 342.0h0M171.0 345.7h0M171.6 349.3h0M171.0 353.0h0" stroke="#33a02c" stroke-width="2.4" stroke-linecap="round" fill="none"/>
<path d="M183.5 280.2V289.7M184.5 280.2V296.0M185.5 280.2V313.6M186.5 280.2V313.6M187.5 280.2V302.4M188.5 280.2V298.3M189.5 280.2V297.5M190.5 280.2V297.5M191.5 280.2V287.8M192.5 280.2V287.0M193.5 280.2V290.5M194.5 280.2V309.8M195.5 280.2V309.8M196.5 280.2V309.8M197.5 280.2V302.2M198.5 280.2V299.0M199.5 280.2V300.8M200.5 280.2V304.2M201.5 280.2V311.7M202.5 280.2V311.7M203.5 280.2V288.3" stroke="#fb9a99" stroke-width="1.4" fill="none"/><path d="M184.5 298.4h0M184.5 298.4h0M191.5 293.7h0M192.5 292.3h0" stroke="#fb9a99" stroke-width="2.3" stroke-linecap="round" fill="none"/>
<path d="M194.9 314.5h0M195.5 318.0h0M195.5 321.5h0M194.9 332.0h0" stroke="#fb9a99" stroke-width="2.4" stroke-linecap="round" fill="none"/>
<path d="M207.5 280.2V298.4M208.5 280.2V303.4M209.5 280.2V308.2M210.5 280.2V310.8M211.5 280.2V311.5M212.5 280.2V310.8M213.5 280.2V314.0M214.5 280.2V310.8M215.5 280.2V306.6M216.5 280.2V299.7M217.5 280.2V294.7M218.5 280.2V294.5M219.5 280.2V297.7M220.5 280.2V304.1M221.5 280.2V306.6M222.5 280.2V307.3M223.5 280.2V298.5M224.5 280.2V298.6M225.5 280.2V296.4M226.5 280.2V297.0M227.5 280.2V289.0M228.5 280.2V283.8" stroke="#e31a1c" stroke-width="1.4" fill="none"/><path d="M207.5 299.8h0M207.5 301.9h0M208.5 308.2h0M208.5 307.4h0M208.5 308.2h0M209.5 309.4h0M210.5 315.1h0M210.5 315.8h0M210.5 315.9h0M211.5 312.8h0M211.5 316.3h0M212.5 318.5h0M220.5 308.3h0M221.5 311.4h0M222.5 310.7h0M222.5 310.2h0M224.5 301.8h0M225.5 307.8h0" stroke="#e31a1c" stroke-width="2.3" stroke-linecap="round" fill="none"/>
<path d="M225.6 315.0h0M225.0 318.3h0M224.4 325.0h0" stroke="#e31a1c" stroke-width="2.4" stroke-linecap="round" fill="none"/>
<path d="M232.5 280.2V293.2M233.5 280.2V311.8M234.5 280.2V324.2M235.5 280.2V324.2M236.5 280.2V299.4M237.5 280.2V292.2M238.5 280.2V287.8M239.5 280.2V290.7M240.5 280.2V287.1M241.5 280.2V288.0M242.5 280.2V289.1M243.5 280.2V300.5M244.5 280.2V307.5M245.5 280.2V326.1M246.5 280.2V326.1M247.5 280.2V298.5M248.5 280.2V296.7M249.5 280.2V293.5M250.5 280.2V287.9M251.5 280.2V287.8M252.5 280.2V284.5" stroke="#fdbf6f" stroke-width="1.4" fill="none"/><path d="M238.5 290.5h0M239.5 291.6h0M240.5 293.5h0M240.5 292.7h0M241.5 288.3h0M241.5 290.2h0M242.5 293.8h0M242.5 293.0h0M243.5 301.7h0M243.5 300.9h0M244.5 308.7h0M244.5 309.4h0M247.5 319.9h0M247.5 321.1h0M249.5 306.0h0M249.5 309.0h0M250.5 294.1h0M250.5 297.0h0M251.5 287.8h0" stroke="#fdbf6f" stroke-width="2.3" stroke-linecap="round" fill="none"/>
<path d="M246.0 328.0h0M246.0 331.3h0M246.0 334.6h0M246.0 337.9h0M246.0 341.1h0M246.0 344.4h0M246.0 347.7h0M246.0 351.0h0" stroke="#fdbf6f" stroke-width="2.4" stroke-linecap="round" fill="none"/>
<path d="M256.5 280.2V280.2M257.5 280.2V296.7M258.5 280.2V297.4M259.5 280.2V298.0M260.5 280.2V291.9M261.5 280.2V292.4M262.5 280.2V291.7M263.5 280.2V289.9M264.5 280.2V287.3M265.5 280.2V285.6M266.5 280.2V286.8M267.5 280.2V288.1M268.5 280.2V300.2M269.5 280.2V300.2M270.5 280.2V288.4M271.5 280.2V285.9M272.5 280.2V283.8M273.5 280.2V282.2" stroke="#ff7f00" stroke-width="1.4" fill="none"/><path d="M260.5 297.2h0M261.5 295.0h0M261.5 295.3h0M262.5 299.6h0M263.5 290.5h0M264.5 290.2h0M264.5 288.0h0M265.5 286.2h0M266.5 289.9h0M266.5 290.3h0M267.5 290.4h0M270.5 290.0h0M270.5 294.3h0M272.5 284.4h0M272.5 283.8h0" stroke="#ff7f00" stroke-width="2.3" stroke-linecap="round" fill="none"/>
<path d="" stroke="#ff7f00" stroke-width="2.4" stroke-linecap="round" fill="none"/>
<path d="M277.5 280.2V286.1M278.5 280.2V288.2M279.5 280.2V290.4M280.5 280.2V293.0M281.5 280.2V296.3M282.5 280.2V296.3M283.5 280.2V292.0M284.5 280.2V290.3M285.5 280.2V294.9M286.5 280.2V308.0M287.5 280.2V333.7M288.5 280.2V357.2M289.5 280.2V323.7M290.5 280.2V326.1M291.5 280.2V312.5M292.5 280.2V301.4M293.5 280.2V300.9M294.5 280.2V300.6M295.5 280.2V300.6M296.5 280.2V309.3M297.5 280.2V303.0M298.5 280.2V297.1M299.5 280.2V294.1M300.5 280.2V294.3M301.5 280.2V290.1M302.5 280.2V289.7M303.5 280.2V290.9M304.5 280.2V288.8M305.5 280.2V286.3" stroke="#cab2d6" stroke-width="1.4" fill="none"/><path d="M285.5 295.1h0M285.5 295.9h0M285.5 295.7h0M286.5 310.7h0M286.5 311.7h0M287.5 334.3h0M287.5 336.5h0M288.5 363.6h0M289.5 361.5h0M289.5 358.0h0M290.5 354.2h0M290.5 327.0h0M291.5 325.0h0M291.5 336.7h0M292.5 302.2h0M292.5 311.2h0M295.5 305.8h0M295.5 307.2h0M296.5 310.3h0M296.5 309.3h0M296.5 312.6h0M297.5 304.7h0M298.5 297.1h0M301.5 292.7h0M302.5 290.6h0M302.5 292.1h0" stroke="#cab2d6" stroke-width="2.3" stroke-linecap="round" fill="none"/>
<path d="M288.3 366.2h0M288.3 368.0h0M289.4 367.3h0M290.6 370.0h0M292.1 350.4h0M291.5 354.2h0M291.5 362.0h0" stroke="#cab2d6" stroke-width="2.4" stroke-linecap="round" fill="none"/>
<path d="M309.5 280.2V316.5M310.5 280.2V316.5M311.5 280.2V296.3M312.5 280.2V309.5M313.5 280.2V313.2M314.5 280.2V317.9M315.5 280.2V328.0M316.5 280.2V328.0M317.5 280.2V320.6M318.5 280.2V318.4M319.5 280.2V315.0M320.5 280.2V312.3M321.5 280.2V306.0M322.5 280.2V303.3M323.5 280.2V295.3M324.5 280.2V312.6M325.5 280.2V312.6" stroke="#6a3d9a" stroke-width="1.4" fill="none"/><path d="M311.5 297.8h0M312.5 311.9h0M314.5 318.5h0M314.5 319.6h0M317.5 324.8h0M317.5 322.5h0M317.5 324.8h0M318.5 319.9h0M319.5 315.5h0M319.5 317.8h0M321.5 308.7h0M321.5 306.3h0M323.5 304.4h0" stroke="#6a3d9a" stroke-width="2.3" stroke-linecap="round" fill="none"/>
<path d="" stroke="#6a3d9a" stroke-width="2.4" stroke-linecap="round" fill="none"/>
<path d="M329.5 280.2V296.9M330.5 280.2V312.9M331.5 280.2V315.5M332.5 280.2V315.6M333.5 280.2V316.8M334.5 280.2V315.5M335.5 280.2V310.8M336.5 280.2V299.7M337.5 280.2V295.0M338.5 280.2V313.9M339.5 280.2V327.0M340.5 280.2V370.2M341.5 280.2V370.2M342.5 280.2V325.8M343.5 280.2V311.1M344.5 280.2V307.4M345.5 280.2V303.3M346.5 280.2V300.7M347.5 280.2V298.6M348.5 280.2V297.2M349.5 280.2V298.6M350.5 280.2V300.7M351.5 280.2V295.5M352.5 280.2V311.3M353.5 280.2V314.9M354.5 280.2V314.3M355.5 280.2V316.2M356.5 280.2V317.4M357.5 280.2V315.7M358.5 280.2V315.3M359.5 280.2V302.3M360.5 280.2V296.5M361.5 280.2V290.2M362.5 280.2V283.5" stroke="#a6cee3" stroke-width="1.4" fill="none"/><path d="M329.5 300.4h0M329.5 311.7h0M334.5 317.5h0M334.5 315.5h0M335.5 312.1h0M336.5 301.5h0M336.5 301.2h0M337.5 299.1h0M338.5 315.8h0M339.5 328.8h0M339.5 327.7h0M340.5 371.6h0M341.5 371.9h0M343.5 311.2h0M343.5 312.0h0M343.5 312.8h0M344.5 308.5h0M347.5 301.4h0M348.5 297.3h0M351.5 299.9h0M352.5 313.5h0M353.5 315.9h0M353.5 317.3h0M355.5 319.4h0M355.5 318.4h0M356.5 318.7h0M356.5 319.1h0M358.5 317.1h0M359.5 310.9h0M359.5 306.0h0M360.5 296.9h0M360.5 299.6h0M361.5 291.9h0M361.5 293.3h0M361.5 290.7h0" stroke="#a6cee3" stroke-width="2.3" stroke-linecap="round" fill="none"/>
<path d="M356.6 323.3h0M356.6 326.7h0M355.4 330.0h0M356.6 333.3h0M356.6 336.7h0M355.4 340.0h0M340.4 374.0h0M341.0 374.0h0" stroke="#a6cee3" stroke-width="2.4" stroke-linecap="round" fill="none"/>
<path d="M366.5 280.2V306.1M367.5 280.2V353.0M368.5 280.2V353.0M369.5 280.2V311.9M370.5 280.2V319.9M371.5 280.2V337.6M372.5 280.2V337.6M373.5 280.2V320.6M374.5 280.2V313.4M375.5 280.2V312.1M376.5 280.2V316.8M377.5 280.2V310.9M378.5 280.2V316.2M379.5 280.2V318.6M380.5 280.2V323.9M381.5 280.2V325.2M382.5 280.2V340.0M383.5 280.2V360.6M384.5 280.2V363.1M385.5 280.2V392.5M386.5 280.2V397.2M387.5 280.2V349.2M388.5 280.2V348.5M389.5 280.2V338.0M390.5 280.2V351.1M391.5 280.2V335.7M392.5 280.2V334.7M393.5 280.2V329.4M394.5 280.2V336.1M395.5 280.2V338.6M396.5 280.2V340.3M397.5 280.2V345.3M398.5 280.2V345.3M399.5 280.2V339.0M400.5 280.2V332.8M401.5 280.2V328.8M402.5 280.2V321.4M403.5 280.2V305.5M404.5 280.2V290.3" stroke="#1f78b4" stroke-width="1.4" fill="none"/><path d="M366.5 316.4h0M366.5 312.9h0M367.5 355.0h0M367.5 355.3h0M368.5 354.4h0M369.5 315.6h0M369.5 316.7h0M369.5 326.2h0M370.5 320.5h0M370.5 323.2h0M370.5 320.7h0M371.5 338.3h0M371.5 339.3h0M372.5 339.1h0M372.5 339.9h0M373.5 325.9h0M374.5 314.5h0M375.5 312.9h0M377.5 317.3h0M379.5 332.3h0M380.5 337.0h0M382.5 347.5h0M383.5 387.3h0M383.5 396.0h0M384.5 379.7h0M386.5 398.2h0M386.5 400.8h0M387.5 361.7h0M388.5 397.9h0M389.5 342.5h0M391.5 338.5h0M392.5 341.4h0M392.5 341.3h0M393.5 332.7h0M393.5 333.8h0M394.5 338.3h0M394.5 336.7h0M395.5 339.5h0M396.5 340.8h0M398.5 347.3h0M398.5 346.4h0M399.5 340.2h0M400.5 336.9h0M401.5 328.9h0M402.5 323.9h0M403.5 307.6h0M403.5 306.2h0" stroke="#1f78b4" stroke-width="2.3" stroke-linecap="round" fill="none"/>
<path d="M396.6 344.0h0M396.0 347.2h0M395.4 350.4h0M396.0 353.6h0M396.0 356.8h0M396.0 360.0h0M396.6 363.2h0M396.0 366.4h0M396.0 369.6h0M395.4 372.8h0M396.0 382.4h0M396.0 385.6h0M396.0 392.0h0M396.6 395.2h0M395.4 401.6h0M396.0 404.8h0M396.0 408.0h0M393.0 341.0h0M392.4 344.4h0M392.4 347.8h0M393.0 351.2h0M392.4 354.6h0M392.4 358.0h0M393.0 361.4h0M393.0 368.2h0M393.0 371.6h0M393.0 378.4h0M393.6 381.8h0M393.0 385.2h0M393.0 388.6h0M393.0 392.0h0M398.4 344.2h0M399.6 347.5h0M398.4 350.8h0M399.0 354.1h0M399.0 357.4h0M399.0 360.6h0M399.0 363.9h0M399.0 367.2h0M399.0 370.5h0M399.0 373.8h0M399.6 377.0h0M399.0 380.3h0M399.6 383.6h0M399.0 386.9h0M398.4 390.2h0M398.4 393.4h0M399.0 396.7h0M399.0 400.0h0M402.1 344.5h0M401.5 347.8h0M401.5 351.0h0M400.9 354.2h0M402.1 357.4h0M402.1 360.7h0M400.9 363.9h0M400.9 370.3h0M400.9 376.8h0M402.1 380.0h0M390.4 343.0h0M391.0 346.2h0M390.4 349.5h0M391.0 352.7h0M391.6 355.9h0M390.4 359.2h0M391.0 362.4h0M391.0 365.6h0M391.6 368.8h0M391.0 372.1h0M391.0 375.3h0M391.6 378.5h0M391.0 381.8h0M391.6 385.0h0" stroke="#1f78b4" stroke-width="2.4" stroke-linecap="round" fill="none"/>
<path d="M408.5 280.2V303.0M409.5 280.2V317.8M410.5 280.2V324.2M411.5 280.2V326.9M412.5 280.2V326.0M413.5 280.2V322.7M414.5 280.2V319.9M415.5 280.2V324.1M416.5 280.2V331.0M417.5 280.2V335.8M418.5 280.2V350.1M419.5 280.2V350.1M420.5 280.2V350.1M421.5 280.2V306.6M422.5 280.2V322.9M423.5 280.2V319.4M424.5 280.2V320.5M425.5 280.2V321.0M426.5 280.2V320.6M427.5 280.2V320.3M428.5 280.2V317.0M429.5 280.2V312.6M430.5 280.2V309.7M431.5 280.2V304.6M432.5 280.2V304.0M433.5 280.2V303.1M434.5 280.2V301.4M435.5 280.2V301.2M436.5 280.2V299.2M437.5 280.2V296.2M438.5 280.2V292.8M439.5 280.2V289.4M440.5 280.2V291.4M441.5 280.2V294.8M442.5 280.2V301.1M443.5 280.2V297.8M444.5 280.2V303.8M445.5 280.2V335.7M446.5 280.2V335.7M447.5 280.2V315.6M448.5 280.2V307.7M449.5 280.2V304.3M450.5 280.2V310.2M451.5 280.2V312.1M452.5 280.2V315.5M453.5 280.2V315.5M454.5 280.2V310.1M455.5 280.2V307.0M456.5 280.2V294.6M457.5 280.2V290.5M458.5 280.2V286.2" stroke="#b2df8a" stroke-width="1.4" fill="none"/><path d="M410.5 324.3h0M413.5 323.3h0M415.5 326.0h0M416.5 331.5h0M417.5 339.6h0M417.5 336.9h0M417.5 339.4h0M418.5 351.7h0M418.5 350.4h0M419.5 352.6h0M419.5 350.7h0M419.5 352.7h0M420.5 350.6h0M421.5 315.1h0M421.5 329.8h0M422.5 325.1h0M423.5 320.3h0M424.5 324.4h0M426.5 322.3h0M427.5 320.4h0M432.5 305.6h0M432.5 305.3h0M433.5 303.2h0M433.5 303.4h0M434.5 301.4h0M434.5 302.5h0M435.5 301.8h0M441.5 298.4h0M443.5 314.7h0M444.5 308.1h0M444.5 325.1h0M444.5 316.7h0M445.5 337.4h0M445.5 337.0h0M446.5 337.0h0M448.5 309.6h0M448.5 310.8h0M448.5 312.2h0M449.5 308.6h0M449.5 308.2h0M454.5 311.1h0M455.5 307.2h0M455.5 308.5h0M455.5 308.4h0M456.5 298.0h0M456.5 300.4h0M457.5 295.0h0M458.5 289.2h0M458.5 288.6h0" stroke="#b2df8a" stroke-width="2.3" stroke-linecap="round" fill="none"/>
<path d="M412.5 330.0h0M413.1 339.6h0M412.5 346.0h0" stroke="#b2df8a" stroke-width="2.4" stroke-linecap="round" fill="none"/>
<path d="M462.5 280.2V295.2M463.5 280.2V325.1M464.5 280.2V325.1M465.5 280.2V319.2M466.5 280.2V314.9M467.5 280.2V312.2M468.5 280.2V308.0M469.5 280.2V304.7M470.5 280.2V306.2M471.5 280.2V313.6M472.5 280.2V313.6M473.5 280.2V289.0M474.5 280.2V284.7M475.5 280.2V282.7M476.5 280.2V287.3M477.5 280.2V288.7M478.5 280.2V290.2M479.5 280.2V287.8M480.5 280.2V291.2M481.5 280.2V307.1M482.5 280.2V312.4M483.5 280.2V317.4M484.5 280.2V321.3M485.5 280.2V329.9M486.5 280.2V329.9M487.5 280.2V329.9M488.5 280.2V322.7M489.5 280.2V320.7M490.5 280.2V319.2M491.5 280.2V323.9M492.5 280.2V318.2M493.5 280.2V335.7M494.5 280.2V335.7M495.5 280.2V301.4M496.5 280.2V296.3M497.5 280.2V293.0M498.5 280.2V290.7M499.5 280.2V293.9M500.5 280.2V293.4M501.5 280.2V290.7M502.5 280.2V285.4M503.5 280.2V283.1" stroke="#33a02c" stroke-width="1.4" fill="none"/><path d="M466.5 315.0h0M466.5 316.7h0M468.5 308.4h0M468.5 308.6h0M469.5 307.4h0M469.5 305.2h0M469.5 305.3h0M473.5 299.6h0M473.5 290.3h0M474.5 286.7h0M475.5 283.0h0M479.5 293.9h0M479.5 293.8h0M480.5 296.1h0M480.5 301.2h0M480.5 296.1h0M484.5 323.3h0M484.5 321.4h0M485.5 330.4h0M485.5 332.0h0M485.5 330.8h0M486.5 331.4h0M486.5 331.2h0M487.5 330.3h0M487.5 331.6h0M488.5 324.6h0M488.5 323.9h0M490.5 321.5h0M490.5 320.4h0M490.5 320.8h0M491.5 324.2h0M491.5 326.5h0M491.5 325.7h0M492.5 320.3h0M494.5 336.0h0M494.5 337.1h0M494.5 336.4h0M495.5 315.8h0M496.5 311.6h0M497.5 304.3h0M498.5 297.9h0M498.5 294.7h0M499.5 295.0h0M499.5 296.2h0M499.5 298.1h0M502.5 285.9h0M502.5 285.7h0M502.5 286.8h0" stroke="#33a02c" stroke-width="2.3" stroke-linecap="round" fill="none"/>
<path d="M466.4 315.0h0M466.4 318.3h0M467.0 321.6h0M467.6 324.9h0M466.4 328.2h0M467.0 331.5h0M466.4 334.8h0M467.0 338.2h0M466.4 341.5h0M467.0 351.4h0M467.0 358.0h0M486.5 332.0h0M487.1 338.6h0M487.1 341.9h0M487.1 345.2h0M485.9 351.9h0M485.9 355.2h0M486.5 361.8h0M486.5 365.1h0M487.1 368.4h0M486.5 371.8h0M486.5 375.1h0M485.9 378.4h0M487.1 385.0h0" stroke="#33a02c" stroke-width="2.4" stroke-linecap="round" fill="none"/>
<path d="M507.5 280.2V307.9M508.5 280.2V317.6M509.5 280.2V329.9M510.5 280.2V329.9M511.5 280.2V323.5M512.5 280.2V317.4M513.5 280.2V314.1M514.5 280.2V301.2M515.5 280.2V301.0M516.5 280.2V307.3M517.5 280.2V308.7M518.5 280.2V322.4M519.5 280.2V324.4M520.5 280.2V312.8M521.5 280.2V308.2M522.5 280.2V300.5M523.5 280.2V296.2M524.5 280.2V291.8M525.5 280.2V294.5M526.5 280.2V293.9M527.5 280.2V293.3M528.5 280.2V293.6M529.5 280.2V296.9M530.5 280.2V302.6M531.5 280.2V306.4M532.5 280.2V311.0M533.5 280.2V314.6M534.5 280.2V318.0M535.5 280.2V322.0M536.5 280.2V329.9M537.5 280.2V329.9M538.5 280.2V324.6M539.5 280.2V321.2M540.5 280.2V314.8M541.5 280.2V305.9M542.5 280.2V296.2M543.5 280.2V287.1" stroke="#fb9a99" stroke-width="1.4" fill="none"/><path d="M509.5 330.0h0M509.5 330.4h0M510.5 331.4h0M510.5 331.6h0M512.5 317.8h0M514.5 312.3h0M515.5 318.2h0M515.5 303.2h0M515.5 315.9h0M517.5 323.0h0M518.5 323.2h0M520.5 318.7h0M520.5 325.7h0M521.5 315.6h0M521.5 316.2h0M522.5 309.3h0M522.5 303.4h0M523.5 296.7h0M524.5 295.5h0M524.5 292.7h0M528.5 295.3h0M529.5 298.1h0M533.5 315.4h0M533.5 315.2h0M533.5 315.5h0M535.5 322.2h0M536.5 331.6h0M536.5 331.9h0M537.5 331.6h0M537.5 331.3h0M538.5 325.2h0M539.5 324.0h0M539.5 323.4h0M540.5 318.8h0M540.5 317.4h0M541.5 307.9h0M542.5 296.8h0M542.5 296.7h0" stroke="#fb9a99" stroke-width="2.3" stroke-linecap="round" fill="none"/>
<path d="M516.5 324.0h0M517.1 327.2h0M516.5 330.4h0M516.5 336.9h0M517.1 340.1h0M516.5 343.3h0M517.1 346.5h0M517.1 349.7h0M516.5 352.9h0M516.5 356.1h0M517.1 365.8h0M517.1 369.0h0M537.6 332.0h0M537.6 335.3h0M537.0 338.7h0M536.4 345.3h0M537.6 348.7h0M537.0 352.0h0M537.0 355.3h0M537.0 358.7h0M537.0 362.0h0M536.4 368.7h0M536.4 372.0h0" stroke="#fb9a99" stroke-width="2.4" stroke-linecap="round" fill="none"/>
<path d="M547.5 280.2V312.5M548.5 280.2V336.6M549.5 280.2V336.6M550.5 280.2V323.6M551.5 280.2V320.4M552.5 280.2V310.6M553.5 280.2V310.3M554.5 280.2V306.9M555.5 280.2V311.1M556.5 280.2V327.0M557.5 280.2V327.0M558.5 280.2V315.9M559.5 280.2V311.0M560.5 280.2V306.1M561.5 280.2V302.4M562.5 280.2V297.6M563.5 280.2V296.6M564.5 280.2V305.8M565.5 280.2V313.3M566.5 280.2V320.9M567.5 280.2V356.8M568.5 280.2V356.8M569.5 280.2V356.8M570.5 280.2V346.1M571.5 280.2V347.2M572.5 280.2V338.2M573.5 280.2V343.1M574.5 280.2V340.7M575.5 280.2V340.8M576.5 280.2V313.3M577.5 280.2V305.7M578.5 280.2V295.7" stroke="#e31a1c" stroke-width="1.4" fill="none"/><path d="M547.5 313.3h0M548.5 338.7h0M549.5 338.0h0M550.5 326.1h0M550.5 324.9h0M552.5 311.8h0M553.5 311.8h0M554.5 310.5h0M555.5 317.3h0M555.5 316.7h0M558.5 316.0h0M560.5 306.4h0M560.5 308.0h0M561.5 302.9h0M561.5 305.3h0M562.5 298.0h0M563.5 306.2h0M564.5 312.0h0M565.5 325.9h0M566.5 333.3h0M566.5 329.9h0M567.5 359.6h0M568.5 359.7h0M568.5 357.4h0M569.5 356.8h0M569.5 358.9h0M570.5 352.4h0M571.5 348.1h0M572.5 344.9h0M572.5 338.7h0M573.5 346.0h0M574.5 344.6h0M575.5 343.4h0M576.5 329.1h0M576.5 332.4h0M577.5 312.1h0M578.5 312.5h0" stroke="#e31a1c" stroke-width="2.3" stroke-linecap="round" fill="none"/>
<path d="M569.1 360.0h0M569.1 363.2h0M567.9 366.5h0M568.5 369.8h0M567.9 373.0h0M568.5 376.2h0M568.5 379.5h0M569.1 382.8h0M569.1 386.0h0M569.1 392.5h0M569.1 395.8h0M568.5 399.0h0M568.5 402.2h0M568.5 405.5h0M569.1 418.5h0M569.1 421.8h0M569.1 425.0h0M576.0 345.0h0M576.0 352.5h0M576.6 356.2h0M576.0 360.0h0" stroke="#e31a1c" stroke-width="2.4" stroke-linecap="round" fill="none"/>
<path d="M582.5 280.2V280.2M583.5 280.2V285.6M584.5 280.2V294.4M585.5 280.2V300.4M586.5 280.2V306.4M587.5 280.2V311.8M588.5 280.2V316.7M589.5 280.2V325.1M590.5 280.2V325.1M591.5 280.2V317.7M592.5 280.2V317.1M593.5 280.2V313.0M594.5 280.2V312.6M595.5 280.2V312.8M596.5 280.2V321.2M597.5 280.2V336.6M598.5 280.2V336.6M599.5 280.2V328.8M600.5 280.2V325.2M601.5 280.2V312.1M602.5 280.2V318.1M603.5 280.2V314.1M604.5 280.2V309.5M605.5 280.2V308.9M606.5 280.2V299.4M607.5 280.2V300.3M608.5 280.2V304.1M609.5 280.2V304.3M610.5 280.2V314.0M611.5 280.2V317.6M612.5 280.2V317.9M613.5 280.2V300.7M614.5 280.2V298.8M615.5 280.2V297.8M616.5 280.2V295.0M617.5 280.2V300.6M618.5 280.2V294.3M619.5 280.2V288.4M620.5 280.2V282.5" stroke="#fdbf6f" stroke-width="1.4" fill="none"/><path d="M583.5 286.7h0M585.5 301.5h0M588.5 318.3h0M588.5 318.2h0M591.5 320.7h0M591.5 319.9h0M593.5 313.0h0M593.5 315.4h0M595.5 314.2h0M595.5 317.0h0M595.5 313.4h0M596.5 325.2h0M596.5 325.6h0M598.5 338.7h0M599.5 331.9h0M599.5 331.5h0M600.5 327.6h0M600.5 325.9h0M601.5 319.8h0M601.5 323.1h0M601.5 323.4h0M602.5 320.3h0M603.5 315.7h0M603.5 314.3h0M603.5 314.2h0M604.5 309.9h0M604.5 310.7h0M606.5 309.0h0M606.5 307.5h0M607.5 305.1h0M608.5 313.7h0M608.5 309.7h0M608.5 314.0h0M609.5 307.9h0M610.5 317.2h0M613.5 309.2h0M613.5 309.3h0M613.5 314.5h0M614.5 312.3h0M615.5 302.7h0M615.5 302.1h0M616.5 298.7h0" stroke="#fdbf6f" stroke-width="2.3" stroke-linecap="round" fill="none"/>
<path d="M585.6 300.0h0M585.0 303.7h0M585.0 314.7h0M585.0 322.0h0M592.0 329.8h0M592.0 333.1h0M592.0 342.9h0M592.0 346.1h0M591.4 349.4h0M592.0 352.7h0M592.6 359.2h0M591.4 362.5h0M591.4 365.7h0M591.4 369.0h0M609.0 315.0h0M608.4 319.0h0M609.0 327.0h0M612.6 320.0h0M611.4 326.7h0M611.4 330.1h0M612.0 333.4h0M612.0 336.8h0M612.6 340.1h0M612.6 346.9h0M611.4 350.2h0M612.0 353.6h0M612.0 360.3h0M612.0 363.6h0M611.4 367.0h0" stroke="#fdbf6f" stroke-width="2.4" stroke-linecap="round" fill="none"/>
<path d="M624.5 280.2V280.2M625.5 280.2V296.2M626.5 280.2V301.6M627.5 280.2V304.6M628.5 280.2V302.9M629.5 280.2V318.4M630.5 280.2V318.4M631.5 280.2V298.2M632.5 280.2V296.0M633.5 280.2V292.7M634.5 280.2V288.4M635.5 280.2V295.3M636.5 280.2V292.4M637.5 280.2V293.3M638.5 280.2V294.7M639.5 280.2V294.1M640.5 280.2V304.2M641.5 280.2V307.5M642.5 280.2V311.8M643.5 280.2V314.8M644.5 280.2V308.9M645.5 280.2V329.0M646.5 280.2V329.0M647.5 280.2V310.0M648.5 280.2V318.7M649.5 280.2V316.2M650.5 280.2V305.3M651.5 280.2V303.7M652.5 280.2V301.4M653.5 280.2V309.9M654.5 280.2V307.1M655.5 280.2V299.5M656.5 280.2V286.1" stroke="#ff7f00" stroke-width="1.4" fill="none"/><path d="M627.5 307.3h0M628.5 310.6h0M628.5 311.1h0M631.5 309.2h0M631.5 308.2h0M632.5 300.7h0M632.5 303.9h0M632.5 304.9h0M633.5 300.8h0M633.5 297.0h0M634.5 293.1h0M638.5 295.3h0M638.5 300.4h0M639.5 298.4h0M639.5 300.0h0M641.5 309.3h0M641.5 307.6h0M641.5 309.7h0M642.5 312.9h0M642.5 314.2h0M642.5 312.3h0M643.5 316.0h0M643.5 318.3h0M644.5 314.8h0M644.5 309.5h0M646.5 330.7h0M646.5 330.9h0M646.5 329.3h0M648.5 321.4h0M649.5 316.9h0M650.5 309.5h0M650.5 313.4h0M652.5 304.4h0M652.5 305.6h0" stroke="#ff7f00" stroke-width="2.3" stroke-linecap="round" fill="none"/>
<path d="M625.4 300.0h0M626.6 303.4h0M625.4 306.8h0M626.0 310.1h0M625.4 313.5h0M626.6 316.9h0M626.0 320.2h0M626.0 323.6h0M626.6 327.0h0M629.4 320.0h0M630.0 323.2h0M630.0 326.5h0M630.6 329.7h0M630.0 332.9h0M630.6 339.4h0M629.4 342.6h0M630.0 345.9h0M630.0 355.6h0M630.6 365.3h0M630.0 368.5h0M630.6 371.8h0M630.0 375.0h0M640.0 306.4h0M640.0 309.9h0M639.4 313.3h0M639.4 323.6h0M639.4 327.0h0" stroke="#ff7f00" stroke-width="2.4" stroke-linecap="round" fill="none"/>
<path d="M660.5 280.2V290.9M661.5 280.2V289.2M662.5 280.2V291.7M663.5 280.2V307.5M664.5 280.2V309.0M665.5 280.2V311.6M666.5 280.2V298.5M667.5 280.2V299.5M668.5 280.2V300.6M669.5 280.2V302.2M670.5 280.2V323.6M671.5 280.2V327.0M672.5 280.2V327.0M673.5 280.2V320.2M674.5 280.2V318.6M675.5 280.2V316.2M676.5 280.2V313.4M677.5 280.2V309.6M678.5 280.2V306.4M679.5 280.2V305.4M680.5 280.2V302.6M681.5 280.2V300.3M682.5 280.2V298.2M683.5 280.2V297.5M684.5 280.2V299.1M685.5 280.2V299.5M686.5 280.2V301.5M687.5 280.2V303.4M688.5 280.2V299.8M689.5 280.2V300.9M690.5 280.2V302.4M691.5 280.2V298.7M692.5 280.2V299.5M693.5 280.2V301.1M694.5 280.2V313.0M695.5 280.2V313.9M696.5 280.2V315.0M697.5 280.2V316.3M698.5 280.2V315.5M699.5 280.2V312.6M700.5 280.2V310.2" stroke="#cab2d6" stroke-width="1.4" fill="none"/><path d="M660.5 292.4h0M662.5 301.1h0M662.5 303.3h0M666.5 310.5h0M666.5 299.4h0M667.5 309.7h0M668.5 302.2h0M668.5 301.1h0M668.5 305.3h0M669.5 305.9h0M673.5 320.2h0M674.5 319.6h0M675.5 318.1h0M675.5 318.0h0M677.5 309.9h0M677.5 310.1h0M677.5 310.7h0M678.5 308.3h0M678.5 308.8h0M678.5 307.3h0M685.5 300.1h0M686.5 302.8h0M687.5 303.8h0M687.5 304.4h0M687.5 304.4h0M688.5 301.6h0M689.5 303.1h0M689.5 307.3h0M692.5 313.2h0M692.5 299.6h0M693.5 315.4h0M693.5 310.4h0M694.5 315.9h0M695.5 317.7h0M696.5 316.4h0M697.5 318.1h0M697.5 317.9h0M699.5 315.8h0M699.5 314.5h0" stroke="#cab2d6" stroke-width="2.3" stroke-linecap="round" fill="none"/>
<path d="M664.0 310.0h0M664.0 313.2h0M664.6 316.5h0M663.4 319.8h0M664.6 323.0h0M664.0 329.5h0M664.0 332.8h0M663.4 336.0h0M675.0 320.0h0M675.0 323.2h0M674.4 326.4h0M675.0 329.6h0M674.4 332.8h0M675.0 336.0h0M675.0 339.2h0M675.6 342.4h0M675.0 345.6h0M675.0 348.8h0M675.0 352.0h0M694.4 321.2h0M695.6 324.5h0M694.4 327.8h0M695.0 331.0h0M699.0 320.0h0M699.0 323.3h0M698.4 326.5h0M698.4 333.0h0M699.0 336.3h0M699.6 339.6h0M698.4 342.8h0M698.4 346.1h0M698.4 349.3h0M699.0 352.6h0M699.6 355.9h0M699.6 359.1h0M699.0 362.4h0M699.0 365.7h0M699.0 368.9h0M699.0 372.2h0M699.6 378.7h0M699.0 382.0h0M699.6 385.2h0M699.0 391.7h0M699.0 395.0h0" stroke="#cab2d6" stroke-width="2.4" stroke-linecap="round" fill="none"/>
<line x1="81.7" y1="59.5" x2="81.7" y2="224.8" stroke="#606060" stroke-width="1"/>
<line x1="76.6" y1="224.8" x2="81.7" y2="224.8" stroke="#606060" stroke-width="1"/>
<text transform="translate(70 224.8) rotate(-90)" font-size="9.8" text-anchor="middle" fill="#222">0</text>
<line x1="76.6" y1="197.2" x2="81.7" y2="197.2" stroke="#606060" stroke-width="1"/>
<text transform="translate(70 197.2) rotate(-90)" font-size="9.8" text-anchor="middle" fill="#222">2</text>
<line x1="76.6" y1="169.7" x2="81.7" y2="169.7" stroke="#606060" stroke-width="1"/>
<text transform="translate(70 169.7) rotate(-90)" font-size="9.8" text-anchor="middle" fill="#222">4</text>
<line x1="76.6" y1="142.2" x2="81.7" y2="142.2" stroke="#606060" stroke-width="1"/>
<text transform="translate(70 142.2) rotate(-90)" font-size="9.8" text-anchor="middle" fill="#222">6</text>
<line x1="76.6" y1="114.6" x2="81.7" y2="114.6" stroke="#606060" stroke-width="1"/>
<text transform="translate(70 114.6) rotate(-90)" font-size="9.8" text-anchor="middle" fill="#222">8</text>
<line x1="76.6" y1="87.1" x2="81.7" y2="87.1" stroke="#606060" stroke-width="1"/>
<text transform="translate(70 87.1) rotate(-90)" font-size="9.8" text-anchor="middle" fill="#222">10</text>
<line x1="76.6" y1="59.5" x2="81.7" y2="59.5" stroke="#606060" stroke-width="1"/>
<text transform="translate(70 59.5) rotate(-90)" font-size="9.8" text-anchor="middle" fill="#222">12</text>
<line x1="81.7" y1="202.5" x2="704" y2="202.5" stroke="#6a6a6a" stroke-width="1.1" stroke-dasharray="7 4.5"/>
<line x1="81.8" y1="231.8" x2="682" y2="231.8" stroke="#606060" stroke-width="1"/>
<line x1="95.6" y1="231.8" x2="95.6" y2="236.6" stroke="#606060" stroke-width="1"/>
<line x1="120.6" y1="231.8" x2="120.6" y2="236.6" stroke="#606060" stroke-width="1"/>
<line x1="147.8" y1="231.8" x2="147.8" y2="236.6" stroke="#606060" stroke-width="1"/>
<line x1="172.4" y1="231.8" x2="172.4" y2="236.6" stroke="#606060" stroke-width="1"/>
<line x1="195.2" y1="231.8" x2="195.2" y2="236.6" stroke="#606060" stroke-width="1"/>
<line x1="219.2" y1="231.8" x2="219.2" y2="236.6" stroke="#606060" stroke-width="1"/>
<line x1="244.3" y1="231.8" x2="244.3" y2="236.6" stroke="#606060" stroke-width="1"/>
<line x1="266.4" y1="231.8" x2="266.4" y2="236.6" stroke="#606060" stroke-width="1"/>
<line x1="293.6" y1="231.8" x2="293.6" y2="236.6" stroke="#606060" stroke-width="1"/>
<line x1="319.2" y1="231.8" x2="319.2" y2="236.6" stroke="#606060" stroke-width="1"/>
<line x1="347.0" y1="231.8" x2="347.0" y2="236.6" stroke="#606060" stroke-width="1"/>
<line x1="386.7" y1="231.8" x2="386.7" y2="236.6" stroke="#606060" stroke-width="1"/>
<line x1="434.8" y1="231.8" x2="434.8" y2="236.6" stroke="#606060" stroke-width="1"/>
<line x1="485.0" y1="231.8" x2="485.0" y2="236.6" stroke="#606060" stroke-width="1"/>
<line x1="527.7" y1="231.8" x2="527.7" y2="236.6" stroke="#606060" stroke-width="1"/>
<line x1="565.2" y1="231.8" x2="565.2" y2="236.6" stroke="#606060" stroke-width="1"/>
<line x1="603.5" y1="231.8" x2="603.5" y2="236.6" stroke="#606060" stroke-width="1"/>
<line x1="642.5" y1="231.8" x2="642.5" y2="236.6" stroke="#606060" stroke-width="1"/>
<line x1="682.0" y1="231.8" x2="682.0" y2="236.6" stroke="#606060" stroke-width="1"/>
<text x="78.6" y="255.0" font-size="8.3" text-anchor="middle" fill="#222">Chr</text>
<text x="94.8" y="255.0" font-size="8.3" text-anchor="middle" fill="#222">A01</text>
<text x="117.2" y="255.0" font-size="8.3" text-anchor="middle" fill="#222">A02</text>
<text x="144.2" y="255.0" font-size="8.3" text-anchor="middle" fill="#222">A03</text>
<text x="170.0" y="255.0" font-size="8.3" text-anchor="middle" fill="#222">A04</text>
<text x="192.8" y="255.0" font-size="8.3" text-anchor="middle" fill="#222">A05</text>
<text x="218.9" y="255.0" font-size="8.3" text-anchor="middle" fill="#222">A06</text>
<text x="243.4" y="255.0" font-size="8.3" text-anchor="middle" fill="#222">A07</text>
<text x="263.5" y="255.0" font-size="8.3" text-anchor="middle" fill="#222">A08</text>
<text x="289.0" y="255.0" font-size="8.3" text-anchor="middle" fill="#222">A09</text>
<text x="318.7" y="255.0" font-size="8.3" text-anchor="middle" fill="#222">A10</text>
<text x="343.0" y="255.0" font-size="8.3" text-anchor="middle" fill="#222">C01</text>
<text x="384.0" y="255.0" font-size="8.3" text-anchor="middle" fill="#222">C02</text>
<text x="433.0" y="255.0" font-size="8.3" text-anchor="middle" fill="#222">C03</text>
<text x="480.5" y="255.0" font-size="8.3" text-anchor="middle" fill="#222">C04</text>
<text x="524.0" y="255.0" font-size="8.3" text-anchor="middle" fill="#222">C05</text>
<text x="563.0" y="255.0" font-size="8.3" text-anchor="middle" fill="#222">C06</text>
<text x="602.0" y="255.0" font-size="8.3" text-anchor="middle" fill="#222">C07</text>
<text x="640.7" y="255.0" font-size="8.3" text-anchor="middle" fill="#222">C08</text>
<text x="679.5" y="255.0" font-size="8.3" text-anchor="middle" fill="#222">C09</text>
<line x1="79.4" y1="271.2" x2="682" y2="271.2" stroke="#606060" stroke-width="1"/>
<line x1="95.6" y1="267" x2="95.6" y2="271.2" stroke="#606060" stroke-width="1"/>
<line x1="120.6" y1="267" x2="120.6" y2="271.2" stroke="#606060" stroke-width="1"/>
<line x1="147.8" y1="267" x2="147.8" y2="271.2" stroke="#606060" stroke-width="1"/>
<line x1="172.4" y1="267" x2="172.4" y2="271.2" stroke="#606060" stroke-width="1"/>
<line x1="195.2" y1="267" x2="195.2" y2="271.2" stroke="#606060" stroke-width="1"/>
<line x1="219.2" y1="267" x2="219.2" y2="271.2" stroke="#606060" stroke-width="1"/>
<line x1="244.3" y1="267" x2="244.3" y2="271.2" stroke="#606060" stroke-width="1"/>
<line x1="266.4" y1="267" x2="266.4" y2="271.2" stroke="#606060" stroke-width="1"/>
<line x1="293.6" y1="267" x2="293.6" y2="271.2" stroke="#606060" stroke-width="1"/>
<line x1="319.2" y1="267" x2="319.2" y2="271.2" stroke="#606060" stroke-width="1"/>
<line x1="347.0" y1="267" x2="347.0" y2="271.2" stroke="#606060" stroke-width="1"/>
<line x1="386.7" y1="267" x2="386.7" y2="271.2" stroke="#606060" stroke-width="1"/>
<line x1="434.8" y1="267" x2="434.8" y2="271.2" stroke="#606060" stroke-width="1"/>
<line x1="485.0" y1="267" x2="485.0" y2="271.2" stroke="#606060" stroke-width="1"/>
<line x1="527.7" y1="267" x2="527.7" y2="271.2" stroke="#606060" stroke-width="1"/>
<line x1="565.2" y1="267" x2="565.2" y2="271.2" stroke="#606060" stroke-width="1"/>
<line x1="603.5" y1="267" x2="603.5" y2="271.2" stroke="#606060" stroke-width="1"/>
<line x1="642.5" y1="267" x2="642.5" y2="271.2" stroke="#606060" stroke-width="1"/>
<line x1="682.0" y1="267" x2="682.0" y2="271.2" stroke="#606060" stroke-width="1"/>
<line x1="79.4" y1="281" x2="79.4" y2="439.3" stroke="#606060" stroke-width="1"/>
<line x1="74.3" y1="281.0" x2="79.4" y2="281.0" stroke="#606060" stroke-width="1"/>
<text transform="translate(70 281.0) rotate(-90)" font-size="9.8" text-anchor="middle" fill="#222">0</text>
<line x1="74.3" y1="298.6" x2="79.4" y2="298.6" stroke="#606060" stroke-width="1"/>
<text transform="translate(70 298.6) rotate(-90)" font-size="9.8" text-anchor="middle" fill="#222">1</text>
<line x1="74.3" y1="316.2" x2="79.4" y2="316.2" stroke="#606060" stroke-width="1"/>
<text transform="translate(70 316.2) rotate(-90)" font-size="9.8" text-anchor="middle" fill="#222">2</text>
<line x1="74.3" y1="333.8" x2="79.4" y2="333.8" stroke="#606060" stroke-width="1"/>
<text transform="translate(70 333.8) rotate(-90)" font-size="9.8" text-anchor="middle" fill="#222">3</text>
<line x1="74.3" y1="351.4" x2="79.4" y2="351.4" stroke="#606060" stroke-width="1"/>
<text transform="translate(70 351.4) rotate(-90)" font-size="9.8" text-anchor="middle" fill="#222">4</text>
<line x1="74.3" y1="368.9" x2="79.4" y2="368.9" stroke="#606060" stroke-width="1"/>
<text transform="translate(70 368.9) rotate(-90)" font-size="9.8" text-anchor="middle" fill="#222">5</text>
<line x1="74.3" y1="386.5" x2="79.4" y2="386.5" stroke="#606060" stroke-width="1"/>
<text transform="translate(70 386.5) rotate(-90)" font-size="9.8" text-anchor="middle" fill="#222">6</text>
<line x1="74.3" y1="404.1" x2="79.4" y2="404.1" stroke="#606060" stroke-width="1"/>
<text transform="translate(70 404.1) rotate(-90)" font-size="9.8" text-anchor="middle" fill="#222">7</text>
<line x1="74.3" y1="421.7" x2="79.4" y2="421.7" stroke="#606060" stroke-width="1"/>
<text transform="translate(70 421.7) rotate(-90)" font-size="9.8" text-anchor="middle" fill="#222">8</text>
<line x1="74.3" y1="439.3" x2="79.4" y2="439.3" stroke="#606060" stroke-width="1"/>
<text transform="translate(70 439.3) rotate(-90)" font-size="9.8" text-anchor="middle" fill="#222">9</text>
<line x1="79.4" y1="311.4" x2="704" y2="311.4" stroke="#6a6a6a" stroke-width="1.1" stroke-dasharray="7 4.5"/>
<text transform="translate(49 138) rotate(-90)" text-anchor="middle" fill="#111"><tspan font-size="12.2" font-style="italic">z</tspan><tspan font-size="13"> (</tspan><tspan font-size="12.2" font-style="italic">F</tspan><tspan font-size="8.5" dy="3">ST</tspan><tspan font-size="8.5" dy="-3"> (semi-winter/winter)</tspan><tspan font-size="13">)</tspan></text>
<text transform="translate(49.5 356) rotate(-90)" text-anchor="middle" fill="#111"><tspan font-size="12.2" font-style="italic">z</tspan><tspan font-size="13"> (</tspan><tspan font-size="12.2" font-style="italic">F</tspan><tspan font-size="8.5" dy="3">ST</tspan><tspan font-size="8.5" dy="-3"> (spring/winter)</tspan><tspan font-size="13">)</tspan></text>
<text x="35.0" y="42.1" font-size="17.0" text-anchor="middle" fill="#000" font-weight="bold">a</text>
<text x="368.2" y="39.1" font-size="10.9" text-anchor="middle" fill="#fb0d0d" font-style="italic">NF-YA1</text>
<text x="368.2" y="51.1" font-size="10.9" text-anchor="middle" fill="#fb0d0d" font-style="italic">RPP7</text>
<text x="368.2" y="63.8" font-size="10.9" text-anchor="middle" fill="#fb0d0d" font-style="italic">FLC</text>
<text x="402.0" y="49.3" font-size="10.9" text-anchor="middle" fill="#fb0d0d" font-style="italic">ICE1</text>
<text x="402.0" y="62.1" font-size="10.9" text-anchor="middle" fill="#fb0d0d" font-style="italic">SSRP1</text>
<text x="414.0" y="77.3" font-size="10.9" text-anchor="middle" fill="#fb0d0d" font-style="italic">LATE</text>
<text x="304.4" y="71.5" font-size="10.9" text-anchor="middle" fill="#fb0d0d" font-style="italic">AGL19</text>
<text x="304.4" y="83.5" font-size="10.9" text-anchor="middle" fill="#fb0d0d" font-style="italic">FWA</text>
<text x="340.2" y="71.5" font-size="10.9" text-anchor="middle" fill="#fb0d0d" font-style="italic">ULT1</text>
<text x="340.2" y="83.5" font-size="10.9" text-anchor="middle" fill="#fb0d0d" font-style="italic">VRN2</text>
<text x="322.4" y="138.3" font-size="10.9" text-anchor="middle" fill="#fb0d0d" font-style="italic">ATH1</text>
<text x="446.0" y="123.8" font-size="10.9" text-anchor="middle" fill="#fb0d0d" font-style="italic">GA2ox2</text>
<text x="251.2" y="129.6" font-size="10.9" text-anchor="middle" fill="#fb0d0d" font-style="italic">CSTF64</text>
<text x="272.5" y="152.7" font-size="10.9" text-anchor="middle" fill="#fb0d0d" font-style="italic">CUL3</text>
<text x="518.8" y="95.6" font-size="10.9" text-anchor="middle" fill="#fb0d0d" font-style="italic">UBC1</text>
<text x="518.8" y="107.3" font-size="10.9" text-anchor="middle" fill="#fb0d0d" font-style="italic">ICE1</text>
<text x="541.2" y="126.8" font-size="10.9" text-anchor="middle" fill="#fb0d0d" font-style="italic">SPA3</text>
<text x="540.0" y="138.8" font-size="10.9" text-anchor="middle" fill="#fb0d0d" font-style="italic">SPL5</text>
<text x="576.8" y="99.3" font-size="10.9" text-anchor="middle" fill="#fb0d0d" font-style="italic">PHL</text>
<text x="576.8" y="111.3" font-size="10.9" text-anchor="middle" fill="#fb0d0d" font-style="italic">EFS</text>
<text x="604.5" y="122.6" font-size="10.9" text-anchor="middle" fill="#fb0d0d" font-style="italic">TOE3</text>
<text x="372.0" y="113.1" font-size="10.9" text-anchor="middle" fill="#111" font-style="italic">hFT-2</text>
<text x="375.9" y="145.3" font-size="10.9" text-anchor="middle" fill="#111" font-style="italic">hFT-3</text>
<text x="113.8" y="190.1" font-size="10.9" text-anchor="middle" fill="#111" font-style="italic">hFT-1</text>
<line x1="368.2" y1="66.0" x2="368.2" y2="95.0" stroke="#a4a4a4" stroke-width="1.7"/><polygon points="368.2,101.5 364.4,94.5 372.0,94.5" fill="#a4a4a4"/>
<line x1="396.8" y1="63.4" x2="396.8" y2="74.5" stroke="#a4a4a4" stroke-width="1.7"/><polygon points="396.8,81.0 393.0,74.0 400.6,74.0" fill="#a4a4a4"/>
<line x1="403.2" y1="80.0" x2="401.4" y2="102.0" stroke="#a4a4a4" stroke-width="1.7"/><polygon points="400.9,108.5 397.7,101.2 405.3,101.8" fill="#a4a4a4"/>
<line x1="310.8" y1="85.0" x2="332.2" y2="106.4" stroke="#a4a4a4" stroke-width="1.7"/><polygon points="336.8,111.0 329.2,108.7 334.5,103.4" fill="#a4a4a4"/>
<line x1="339.6" y1="86.3" x2="339.6" y2="104.5" stroke="#a4a4a4" stroke-width="1.7"/><polygon points="339.6,111.0 335.8,104.0 343.4,104.0" fill="#a4a4a4"/>
<line x1="328.7" y1="140.0" x2="330.9" y2="185.3" stroke="#a4a4a4" stroke-width="1.7"/><polygon points="331.2,191.8 327.1,185.0 334.7,184.6" fill="#a4a4a4"/>
<line x1="250.0" y1="131.5" x2="250.0" y2="150.0" stroke="#a4a4a4" stroke-width="1.7"/><polygon points="250.0,156.5 246.2,149.5 253.8,149.5" fill="#a4a4a4"/>
<line x1="271.5" y1="154.8" x2="271.5" y2="180.5" stroke="#a4a4a4" stroke-width="1.7"/><polygon points="271.5,187.0 267.7,180.0 275.3,180.0" fill="#a4a4a4"/>
<line x1="518.0" y1="110.0" x2="518.0" y2="141.5" stroke="#a4a4a4" stroke-width="1.7"/><polygon points="518.0,148.0 514.2,141.0 521.8,141.0" fill="#a4a4a4"/>
<path d="M366.4 121.0V116.4H372.0V121.0" stroke="#000" stroke-width="1.6" fill="none"/>
<path d="M370.3 151.4V145.8H375.1V151.4" stroke="#000" stroke-width="1.6" fill="none"/>
<path d="M109.5 198.0V192.5H115.8V198.0" stroke="#000" stroke-width="1.6" fill="none"/>
<text x="265.8" y="333.2" font-size="10.9" text-anchor="middle" fill="#fb0d0d" font-style="italic">CUL3</text>
<text x="240.6" y="363.0" font-size="10.9" text-anchor="middle" fill="#fb0d0d" font-style="italic">CSTF64</text>
<text x="323.7" y="351.9" font-size="10.9" text-anchor="middle" fill="#fb0d0d" font-style="italic">ATH1</text>
<text x="310.7" y="402.9" font-size="10.9" text-anchor="middle" fill="#fb0d0d" font-style="italic">AGL19</text>
<text x="310.7" y="415.7" font-size="10.9" text-anchor="middle" fill="#fb0d0d" font-style="italic">FWA</text>
<text x="340.0" y="433.9" font-size="10.9" text-anchor="middle" fill="#fb0d0d" font-style="italic">ULT1</text>
<text x="340.0" y="447.7" font-size="10.9" text-anchor="middle" fill="#fb0d0d" font-style="italic">VRN2</text>
<text x="366.7" y="406.3" font-size="10.9" text-anchor="middle" fill="#fb0d0d" font-style="italic">NF-YA1</text>
<text x="366.7" y="418.9" font-size="10.9" text-anchor="middle" fill="#fb0d0d" font-style="italic">RPP7</text>
<text x="368.0" y="432.5" font-size="10.9" text-anchor="middle" fill="#fb0d0d" font-style="italic">FLC</text>
<text x="412.6" y="427.7" font-size="10.9" text-anchor="middle" fill="#fb0d0d" font-style="italic">LATE</text>
<text x="395.5" y="441.9" font-size="10.9" text-anchor="middle" fill="#fb0d0d" font-style="italic">ICE1</text>
<text x="395.5" y="455.2" font-size="10.9" text-anchor="middle" fill="#fb0d0d" font-style="italic">SSRP1</text>
<text x="446.8" y="349.0" font-size="10.9" text-anchor="middle" fill="#fb0d0d" font-style="italic">GA2ox2</text>
<text x="537.9" y="386.9" font-size="10.9" text-anchor="middle" fill="#fb0d0d" font-style="italic">SPA3</text>
<text x="537.1" y="398.3" font-size="10.9" text-anchor="middle" fill="#fb0d0d" font-style="italic">SPL5</text>
<text x="517.5" y="424.3" font-size="10.9" text-anchor="middle" fill="#fb0d0d" font-style="italic">UBC1</text>
<text x="517.5" y="436.6" font-size="10.9" text-anchor="middle" fill="#fb0d0d" font-style="italic">ICE1</text>
<text x="607.6" y="389.9" font-size="10.9" text-anchor="middle" fill="#fb0d0d" font-style="italic">TOE3</text>
<text x="592.2" y="400.6" font-size="10.9" text-anchor="middle" fill="#fb0d0d" font-style="italic">EFS</text>
<text x="581.3" y="423.6" font-size="10.9" text-anchor="middle" fill="#fb0d0d" font-style="italic">PHL</text>
<text x="109.4" y="349.3" font-size="10.9" text-anchor="middle" fill="#111" font-style="italic">hFT-1</text>
<text x="385.4" y="357.0" font-size="10.9" text-anchor="middle" fill="#111" font-style="italic">hFT-3</text>
<text x="364.9" y="376.5" font-size="10.9" text-anchor="middle" fill="#111" font-style="italic">hFT-2</text>
<line x1="268.9" y1="321.2" x2="268.9" y2="310.5" stroke="#a4a4a4" stroke-width="1.7"/><polygon points="268.9,304.0 272.7,311.0 265.1,311.0" fill="#a4a4a4"/>
<line x1="330.5" y1="341.5" x2="330.5" y2="334.3" stroke="#a4a4a4" stroke-width="1.7"/><polygon points="330.5,327.8 334.3,334.8 326.7,334.8" fill="#a4a4a4"/>
<line x1="319.2" y1="390.0" x2="334.2" y2="379.0" stroke="#a4a4a4" stroke-width="1.7"/><polygon points="339.5,375.2 336.1,382.4 331.6,376.3" fill="#a4a4a4"/>
<line x1="343.2" y1="422.0" x2="343.2" y2="351.0" stroke="#a4a4a4" stroke-width="1.7"/><polygon points="343.2,344.5 347.0,351.5 339.4,351.5" fill="#a4a4a4"/>
<line x1="366.7" y1="395.4" x2="366.7" y2="385.5" stroke="#a4a4a4" stroke-width="1.7"/><polygon points="366.7,379.0 370.5,386.0 362.9,386.0" fill="#a4a4a4"/>
<line x1="406.2" y1="416.8" x2="403.1" y2="413.6" stroke="#a4a4a4" stroke-width="1.7"/><polygon points="398.5,409.0 406.1,411.3 400.7,416.7" fill="#a4a4a4"/>
<line x1="394.7" y1="430.0" x2="394.7" y2="403.0" stroke="#a4a4a4" stroke-width="1.7"/><polygon points="394.7,396.5 398.5,403.5 390.9,403.5" fill="#a4a4a4"/>
<line x1="516.2" y1="409.8" x2="516.2" y2="377.8" stroke="#a4a4a4" stroke-width="1.7"/><polygon points="516.2,371.3 520.0,378.3 512.4,378.3" fill="#a4a4a4"/>
<line x1="605.0" y1="377.4" x2="605.0" y2="354.8" stroke="#a4a4a4" stroke-width="1.7"/><polygon points="605.0,348.3 608.8,355.3 601.2,355.3" fill="#a4a4a4"/>
<line x1="587.1" y1="389.4" x2="580.5" y2="369.7" stroke="#a4a4a4" stroke-width="1.7"/><polygon points="578.5,363.5 584.3,368.9 577.1,371.3" fill="#a4a4a4"/>
<line x1="575.7" y1="415.0" x2="575.7" y2="369.0" stroke="#a4a4a4" stroke-width="1.7"/><polygon points="575.7,362.5 579.5,369.5 571.9,369.5" fill="#a4a4a4"/>
<path d="M107.3 331.0V336.3H113.6V331.0" stroke="#000" stroke-width="1.6" fill="none"/>
<path d="M370.7 340.7V345.3H376.0V340.7" stroke="#000" stroke-width="1.6" fill="none"/>
<path d="M365.4 359.4V363.4H370.2V359.4" stroke="#000" stroke-width="1.6" fill="none"/>
<text x="710.0" y="40.1" font-size="17.0" text-anchor="middle" fill="#000" font-weight="bold">b</text>
<text x="769.3" y="57.9" font-size="12.0" text-anchor="middle" fill="#fb0d0d" font-style="italic">FLC</text>
<polygon points="761,205.3 761,99 763,96 765.5,97 766.5,104 767.5,125 768.5,160 769.5,178 770,205.3" fill="#141a6e"/>
<path d="M761.5 205.3V205.3M762.5 205.3V105.4M763.5 205.3V107.6M764.5 205.3V103.6M765.5 205.3V127.2M766.5 205.3V134.6M767.5 205.3V146.2M768.5 205.3V166.9M769.5 205.3V179.3M770.5 205.3V181.4M771.5 205.3V176.6M772.5 205.3V175.3M773.5 205.3V179.4M774.5 205.3V180.3M775.5 205.3V177.9M776.5 205.3V173.6M777.5 205.3V171.3M778.5 205.3V165.0M779.5 205.3V162.5M780.5 205.3V162.9M781.5 205.3V161.3M782.5 205.3V157.7M783.5 205.3V161.2M784.5 205.3V162.7M785.5 205.3V166.6M786.5 205.3V172.3M787.5 205.3V177.2M788.5 205.3V179.7M789.5 205.3V178.6M790.5 205.3V181.5M791.5 205.3V178.6M792.5 205.3V172.9M793.5 205.3V174.8M794.5 205.3V175.1M795.5 205.3V164.1M796.5 205.3V165.8M797.5 205.3V178.0M798.5 205.3V180.4M799.5 205.3V176.5M800.5 205.3V177.1M801.5 205.3V176.4M802.5 205.3V174.7M803.5 205.3V173.7M804.5 205.3V174.9M805.5 205.3V180.7M806.5 205.3V179.5M807.5 205.3V177.6M808.5 205.3V175.8M809.5 205.3V164.7M810.5 205.3V164.7M811.5 205.3V172.7M812.5 205.3V178.8M813.5 205.3V179.8M814.5 205.3V183.9M815.5 205.3V183.5M816.5 205.3V181.9M817.5 205.3V180.9M818.5 205.3V183.1M819.5 205.3V176.5M820.5 205.3V176.6M821.5 205.3V176.1M822.5 205.3V177.9M823.5 205.3V179.1M824.5 205.3V182.1M825.5 205.3V186.8M826.5 205.3V187.8M827.5 205.3V185.8M828.5 205.3V187.6M829.5 205.3V187.0M830.5 205.3V186.2M831.5 205.3V184.9M832.5 205.3V185.0M833.5 205.3V187.8M834.5 205.3V190.0M835.5 205.3V191.0M836.5 205.3V190.3M837.5 205.3V187.9M838.5 205.3V185.7M839.5 205.3V182.9M840.5 205.3V179.6M841.5 205.3V175.6M842.5 205.3V169.5M843.5 205.3V169.5M844.5 205.3V177.9M845.5 205.3V187.5M846.5 205.3V188.2M847.5 205.3V186.8M848.5 205.3V180.6M849.5 205.3V177.2M850.5 205.3V177.2M851.5 205.3V179.0M852.5 205.3V183.5M853.5 205.3V184.3M854.5 205.3V185.8M855.5 205.3V189.7M856.5 205.3V184.0M857.5 205.3V183.3M858.5 205.3V182.8M859.5 205.3V181.2M860.5 205.3V181.3M861.5 205.3V187.9M862.5 205.3V188.2M863.5 205.3V185.0M864.5 205.3V184.7M865.5 205.3V185.7M866.5 205.3V186.0M867.5 205.3V184.2M868.5 205.3V189.2M869.5 205.3V190.2M870.5 205.3V188.9M871.5 205.3V188.3M872.5 205.3V188.5M873.5 205.3V182.5M874.5 205.3V181.2M875.5 205.3V181.4M876.5 205.3V180.8M877.5 205.3V180.9M878.5 205.3V180.6M879.5 205.3V182.2M880.5 205.3V177.8M881.5 205.3V177.6M882.5 205.3V178.3M883.5 205.3V178.0M884.5 205.3V186.9M885.5 205.3V182.4M886.5 205.3V182.1M887.5 205.3V180.9M888.5 205.3V180.6M889.5 205.3V185.6M890.5 205.3V186.2M891.5 205.3V182.1M892.5 205.3V182.1M893.5 205.3V182.2M894.5 205.3V182.5M895.5 205.3V182.5M896.5 205.3V183.3M897.5 205.3V183.4M898.5 205.3V186.9M899.5 205.3V187.5M900.5 205.3V187.5M901.5 205.3V187.0M902.5 205.3V187.0M903.5 205.3V186.9M904.5 205.3V184.3M905.5 205.3V184.5M906.5 205.3V186.9M907.5 205.3V179.9M908.5 205.3V179.4M909.5 205.3V179.0M910.5 205.3V181.7M911.5 205.3V182.5M912.5 205.3V180.0M913.5 205.3V181.1M914.5 205.3V185.8M915.5 205.3V185.8M916.5 205.3V185.5M917.5 205.3V182.2M918.5 205.3V186.5M919.5 205.3V186.5M920.5 205.3V187.3M921.5 205.3V183.4M922.5 205.3V185.8M923.5 205.3V188.3M924.5 205.3V185.3M925.5 205.3V185.5M926.5 205.3V183.6M927.5 205.3V183.0M928.5 205.3V182.8M929.5 205.3V185.4M930.5 205.3V185.0M931.5 205.3V180.8M932.5 205.3V181.6M933.5 205.3V182.6M934.5 205.3V182.3M935.5 205.3V180.6M936.5 205.3V184.8M937.5 205.3V183.8M938.5 205.3V178.7M939.5 205.3V178.5M940.5 205.3V177.7M941.5 205.3V177.9M942.5 205.3V176.3M943.5 205.3V176.1M944.5 205.3V176.5M945.5 205.3V175.7M946.5 205.3V175.8M947.5 205.3V176.4M948.5 205.3V175.8M949.5 205.3V174.4M950.5 205.3V173.0M951.5 205.3V173.9M952.5 205.3V171.9M953.5 205.3V178.7M954.5 205.3V179.3M955.5 205.3V178.6M956.5 205.3V171.6M957.5 205.3V171.2M958.5 205.3V170.8M959.5 205.3V169.1M960.5 205.3V170.4M961.5 205.3V170.6M962.5 205.3V168.7M963.5 205.3V169.4M964.5 205.3V170.2M965.5 205.3V170.8M966.5 205.3V172.7M967.5 205.3V173.6M968.5 205.3V174.4M969.5 205.3V174.3M970.5 205.3V172.8M971.5 205.3V173.1M972.5 205.3V173.0M973.5 205.3V173.8M974.5 205.3V175.2M975.5 205.3V175.9M976.5 205.3V172.9M977.5 205.3V174.2M978.5 205.3V174.6M979.5 205.3V180.4M980.5 205.3V181.6M981.5 205.3V205.3" stroke="#141a6e" stroke-width="1.4" fill="none"/><path d="M763.5 98.9h0M764.5 98.2h0M764.5 94.0h0M765.5 106.0h0M765.5 117.6h0M765.5 104.0h0M765.5 92.7h0M766.5 129.2h0M767.5 144.8h0M768.5 165.7h0M768.5 162.0h0M768.5 156.2h0M769.5 158.7h0M770.5 179.1h0M770.5 179.2h0M770.5 180.8h0M770.5 177.3h0M771.5 169.2h0M772.5 175.0h0M772.5 174.8h0M772.5 171.5h0M773.5 172.7h0M773.5 153.4h0M774.5 179.7h0M774.5 170.8h0M775.5 171.6h0M775.5 170.6h0M775.5 164.6h0M777.5 169.4h0M777.5 155.7h0M778.5 158.5h0M778.5 145.2h0M779.5 150.8h0M780.5 160.0h0M780.5 160.1h0M780.5 156.6h0M780.5 145.1h0M781.5 155.1h0M781.5 153.8h0M782.5 149.2h0M782.5 151.3h0M782.5 129.9h0M783.5 151.8h0M783.5 152.0h0M783.5 133.0h0M784.5 158.4h0M784.5 158.2h0M784.5 162.4h0M784.5 149.1h0M786.5 168.2h0M786.5 167.9h0M786.5 146.4h0M787.5 173.0h0M787.5 168.0h0M788.5 176.0h0M788.5 175.5h0M788.5 173.8h0M788.5 158.5h0M789.5 177.5h0M789.5 177.0h0M789.5 171.0h0M790.5 179.6h0M790.5 180.2h0M790.5 174.8h0M791.5 177.2h0M791.5 177.2h0M792.5 169.3h0M793.5 173.9h0M793.5 168.8h0M793.5 140.8h0M794.5 166.4h0M794.5 165.4h0M794.5 162.3h0M794.5 144.2h0M795.5 163.5h0M795.5 162.3h0M796.5 162.4h0M796.5 164.5h0M797.5 169.4h0M797.5 162.8h0M798.5 175.0h0M798.5 170.8h0M798.5 164.1h0M799.5 176.5h0M799.5 175.2h0M799.5 166.7h0M800.5 176.3h0M800.5 175.5h0M800.5 175.8h0M800.5 157.2h0M801.5 175.5h0M801.5 174.1h0M801.5 161.3h0M803.5 172.8h0M805.5 176.9h0M805.5 175.8h0M805.5 165.7h0M806.5 179.1h0M806.5 173.9h0M806.5 177.6h0M807.5 176.5h0M807.5 168.1h0M808.5 167.3h0M810.5 151.8h0M811.5 167.7h0M812.5 178.8h0M812.5 163.6h0M813.5 177.5h0M816.5 177.2h0M816.5 177.5h0M817.5 178.1h0M817.5 173.3h0M818.5 181.6h0M818.5 182.9h0M818.5 169.4h0M819.5 174.2h0M819.5 174.0h0M819.5 166.2h0M820.5 164.5h0M821.5 161.2h0M822.5 176.7h0M822.5 176.0h0M822.5 177.8h0M822.5 175.4h0M823.5 176.8h0M824.5 179.3h0M826.5 187.7h0M827.5 168.9h0M828.5 168.1h0M829.5 185.5h0M830.5 178.1h0M831.5 182.6h0M834.5 188.1h0M834.5 188.8h0M834.5 189.7h0M834.5 173.9h0M835.5 177.2h0M839.5 164.1h0M841.5 168.4h0M842.5 157.5h0M843.5 155.8h0M845.5 187.0h0M845.5 181.9h0M846.5 164.0h0M847.5 183.8h0M847.5 178.0h0M850.5 175.2h0M852.5 182.8h0M852.5 163.4h0M853.5 184.1h0M853.5 170.0h0M854.5 183.3h0M854.5 184.6h0M854.5 183.9h0M855.5 188.6h0M855.5 181.6h0M857.5 173.0h0M861.5 186.2h0M861.5 182.4h0M861.5 160.6h0M862.5 184.2h0M862.5 183.5h0M862.5 185.4h0M862.5 177.5h0M863.5 182.6h0M863.5 182.9h0M864.5 182.9h0M864.5 181.5h0M866.5 183.8h0M866.5 179.2h0M867.5 180.1h0M868.5 188.1h0M868.5 186.4h0M868.5 183.4h0M869.5 189.5h0M870.5 188.3h0M871.5 187.9h0M871.5 185.9h0M874.5 179.3h0M875.5 169.5h0M876.5 179.4h0M876.5 178.7h0M877.5 178.5h0M877.5 180.0h0M878.5 179.1h0M878.5 178.2h0M878.5 172.2h0M879.5 177.9h0M879.5 177.3h0M879.5 178.7h0M879.5 176.4h0M882.5 172.8h0M884.5 186.2h0M886.5 178.7h0M886.5 180.6h0M886.5 179.4h0M886.5 173.4h0M887.5 177.1h0M889.5 185.6h0M889.5 185.2h0M889.5 179.6h0M890.5 181.7h0M890.5 180.8h0M891.5 163.5h0M892.5 180.0h0M893.5 180.0h0M896.5 181.0h0M897.5 169.7h0M898.5 182.1h0M899.5 183.5h0M900.5 184.5h0M900.5 185.8h0M901.5 181.5h0M902.5 181.6h0M902.5 182.2h0M902.5 163.5h0M903.5 181.8h0M904.5 181.2h0M904.5 168.7h0M905.5 181.4h0M905.5 183.5h0M906.5 181.3h0M906.5 185.3h0M906.5 177.7h0M908.5 160.7h0M909.5 178.0h0M910.5 180.4h0M910.5 178.9h0M911.5 182.1h0M911.5 180.0h0M911.5 163.7h0M913.5 172.2h0M914.5 185.7h0M914.5 180.7h0M914.5 174.2h0M915.5 177.2h0M916.5 182.0h0M916.5 180.2h0M917.5 180.4h0M918.5 184.6h0M918.5 181.5h0M918.5 185.9h0M918.5 165.2h0M919.5 182.4h0M919.5 186.1h0M919.5 184.1h0M919.5 174.6h0M922.5 171.7h0M924.5 181.6h0M924.5 184.8h0M925.5 183.7h0M925.5 184.9h0M925.5 167.6h0M926.5 181.1h0M926.5 180.6h0M928.5 181.2h0M928.5 182.6h0M928.5 163.9h0M929.5 171.4h0M930.5 182.1h0M930.5 182.8h0M932.5 181.2h0M932.5 179.1h0M932.5 180.8h0M933.5 179.9h0M933.5 182.5h0M933.5 181.6h0M933.5 162.0h0M934.5 182.1h0M934.5 179.6h0M934.5 160.7h0M936.5 166.7h0M937.5 179.6h0M938.5 161.8h0M939.5 178.1h0M939.5 163.3h0M941.5 177.9h0M941.5 177.5h0M941.5 156.6h0M945.5 164.9h0M946.5 173.2h0M947.5 175.8h0M947.5 170.6h0M948.5 175.3h0M948.5 173.9h0M949.5 173.5h0M949.5 174.2h0M949.5 154.6h0M951.5 171.7h0M953.5 174.5h0M953.5 155.9h0M954.5 172.0h0M954.5 158.1h0M955.5 175.4h0M955.5 174.8h0M955.5 157.4h0M956.5 171.4h0M956.5 168.2h0M956.5 167.6h0M957.5 170.9h0M958.5 167.7h0M958.5 167.8h0M958.5 169.6h0M958.5 159.7h0M959.5 167.3h0M959.5 168.3h0M961.5 169.6h0M961.5 165.1h0M962.5 168.5h0M963.5 167.2h0M963.5 151.7h0M964.5 167.3h0M964.5 150.0h0M965.5 170.5h0M965.5 156.4h0M966.5 172.5h0M966.5 172.7h0M966.5 165.0h0M967.5 169.7h0M967.5 169.6h0M968.5 170.7h0M968.5 158.0h0M969.5 168.6h0M969.5 171.2h0M969.5 152.7h0M970.5 170.9h0M970.5 155.2h0M971.5 169.3h0M971.5 170.7h0M971.5 166.8h0M972.5 170.1h0M973.5 171.4h0M973.5 170.1h0M973.5 161.6h0M974.5 171.1h0M975.5 172.9h0M975.5 175.6h0M975.5 169.8h0M976.5 172.6h0M976.5 171.1h0M976.5 166.9h0M977.5 172.0h0M977.5 168.4h0M978.5 174.0h0M978.5 173.3h0M978.5 162.4h0M979.5 178.4h0M980.5 179.7h0M981.5 204.9h0" stroke="#141a6e" stroke-width="2.3" stroke-linecap="round" fill="none"/>
<path d="M762.0 95.8h0M761.4 91.8h0M761.4 87.9h0M762.6 80.0h0M762.4 95.4h0M763.0 91.9h0M763.0 85.0h0M772.0 173.0h0M771.4 169.7h0M772.0 166.5h0M772.0 163.2h0M772.0 156.6h0M771.4 153.4h0M772.0 150.1h0M772.0 143.5h0M771.4 140.3h0M772.0 137.0h0M779.0 149.0h0M779.0 142.6h0M779.0 139.4h0M779.6 132.9h0M778.4 129.7h0M779.0 126.5h0M779.6 123.3h0M778.4 120.1h0M779.0 116.9h0M779.6 113.7h0M779.0 110.5h0M779.0 107.3h0M779.0 104.1h0M779.0 94.4h0M779.0 91.2h0M778.4 88.0h0M781.0 149.0h0M780.4 145.8h0M780.4 142.5h0M781.0 136.1h0M781.0 132.8h0M780.4 129.6h0M781.0 126.4h0M781.0 123.2h0M780.4 119.9h0M781.0 116.7h0M781.0 113.5h0M781.6 110.2h0M781.6 107.0h0M783.8 151.4h0M783.2 139.8h0M783.8 136.0h0M796.6 161.7h0M797.2 158.3h0M796.6 154.8h0M796.0 151.4h0M797.2 147.9h0M796.6 144.5h0M796.6 141.0h0M810.6 163.0h0M809.4 159.6h0M809.4 152.9h0M809.4 149.5h0M810.0 139.4h0M810.0 136.0h0M812.3 176.2h0M813.5 172.8h0M812.3 169.5h0M812.9 166.1h0M813.5 159.4h0M812.9 152.7h0M812.9 149.4h0M812.3 139.3h0M812.9 136.0h0M819.8 173.9h0M819.2 170.3h0M819.2 166.7h0M820.4 163.2h0M820.4 159.6h0M819.8 156.0h0M824.5 178.8h0M824.5 175.3h0M824.5 171.8h0M823.9 164.9h0M824.5 161.5h0M823.9 158.0h0M887.4 179.2h0M888.0 175.8h0M888.0 172.4h0M887.4 162.3h0M888.6 158.9h0M888.0 155.5h0M887.4 145.3h0M888.0 141.9h0M888.0 135.2h0M888.0 128.4h0M887.4 125.0h0M835.0 189.0h0M834.4 185.6h0M835.6 182.1h0M835.0 178.7h0M835.6 175.3h0M834.4 171.9h0M835.6 165.0h0M849.4 176.0h0M849.4 169.6h0M850.6 166.4h0M849.4 160.0h0M869.4 184.0h0M869.4 180.2h0M870.0 176.4h0M870.0 172.6h0M870.6 168.8h0M870.0 165.0h0M900.6 178.5h0M900.0 171.5h0M900.0 168.0h0M915.0 180.0h0M915.0 176.7h0M914.4 170.0h0M939.4 176.0h0M939.4 172.8h0M940.0 169.6h0M940.0 166.4h0M940.0 160.0h0M948.6 172.8h0M947.4 165.9h0M948.0 162.4h0M948.0 158.9h0M948.0 155.5h0M948.0 152.0h0M960.0 166.0h0M960.0 162.8h0M960.0 156.4h0M960.6 153.2h0M960.0 150.0h0M965.0 167.0h0M964.4 156.8h0M964.4 150.0h0M929.4 180.0h0M930.0 176.0h0M929.4 172.0h0" stroke="#141a6e" stroke-width="2.4" stroke-linecap="round" fill="none"/>
<line x1="756" y1="66.7" x2="756" y2="205.3" stroke="#333" stroke-width="1"/>
<line x1="749.7" y1="205.3" x2="756" y2="205.3" stroke="#333" stroke-width="1"/>
<text x="742.5" y="209.3" font-size="11.0" text-anchor="end" fill="#111">0</text>
<line x1="749.7" y1="185.5" x2="756" y2="185.5" stroke="#333" stroke-width="1"/>
<text x="742.5" y="189.5" font-size="11.0" text-anchor="end" fill="#111">1</text>
<line x1="749.7" y1="165.7" x2="756" y2="165.7" stroke="#333" stroke-width="1"/>
<text x="742.5" y="169.7" font-size="11.0" text-anchor="end" fill="#111">2</text>
<line x1="749.7" y1="145.9" x2="756" y2="145.9" stroke="#333" stroke-width="1"/>
<text x="742.5" y="149.9" font-size="11.0" text-anchor="end" fill="#111">3</text>
<line x1="749.7" y1="126.1" x2="756" y2="126.1" stroke="#333" stroke-width="1"/>
<text x="742.5" y="130.1" font-size="11.0" text-anchor="end" fill="#111">4</text>
<line x1="749.7" y1="106.3" x2="756" y2="106.3" stroke="#333" stroke-width="1"/>
<text x="742.5" y="110.3" font-size="11.0" text-anchor="end" fill="#111">5</text>
<line x1="749.7" y1="86.5" x2="756" y2="86.5" stroke="#333" stroke-width="1"/>
<text x="742.5" y="90.5" font-size="11.0" text-anchor="end" fill="#111">6</text>
<line x1="749.7" y1="66.7" x2="756" y2="66.7" stroke="#333" stroke-width="1"/>
<text x="742.5" y="70.7" font-size="11.0" text-anchor="end" fill="#111">7</text>
<text transform="translate(720.5 137) rotate(-90)" text-anchor="middle" fill="#111" font-size="12">–log<tspan font-size="8" dy="3">10</tspan><tspan dy="-3">(</tspan><tspan font-style="italic">p</tspan>)</text>
<text x="762.0" y="227.4" font-size="11.0" text-anchor="middle" fill="#111">0</text>
<line x1="762.0" y1="206" x2="762.0" y2="212.5" stroke="#555" stroke-width="1"/>
<text x="795.4" y="227.4" font-size="11.0" text-anchor="middle" fill="#111">7</text>
<line x1="795.4" y1="206" x2="795.4" y2="212.5" stroke="#555" stroke-width="1"/>
<text x="829.6" y="227.4" font-size="11.0" text-anchor="middle" fill="#111">14</text>
<line x1="829.6" y1="206" x2="829.6" y2="212.5" stroke="#555" stroke-width="1"/>
<text x="863.5" y="227.4" font-size="11.0" text-anchor="middle" fill="#111">21</text>
<line x1="863.5" y1="206" x2="863.5" y2="212.5" stroke="#555" stroke-width="1"/>
<text x="897.4" y="227.4" font-size="11.0" text-anchor="middle" fill="#111">28</text>
<line x1="897.4" y1="206" x2="897.4" y2="212.5" stroke="#555" stroke-width="1"/>
<text x="931.0" y="227.4" font-size="11.0" text-anchor="middle" fill="#111">35</text>
<line x1="931.0" y1="206" x2="931.0" y2="212.5" stroke="#555" stroke-width="1"/>
<text x="964.6" y="227.4" font-size="11.0" text-anchor="middle" fill="#111">42</text>
<line x1="964.6" y1="206" x2="964.6" y2="212.5" stroke="#555" stroke-width="1"/>
<text x="980.0" y="227.4" font-size="11.0" text-anchor="middle" fill="#111">Mb</text>
<line x1="756" y1="74.5" x2="986.5" y2="74.5" stroke="#777" stroke-width="0.9" stroke-dasharray="5 3.5"/>
<line x1="769" y1="100.4" x2="986.5" y2="100.4" stroke="#666" stroke-width="0.9" stroke-dasharray="1.2 2.5"/>
<line x1="759.5" y1="62" x2="759.5" y2="231.5" stroke="#888" stroke-width="0.9" stroke-dasharray="2.5 2"/>
<line x1="767.6" y1="62" x2="767.6" y2="231.5" stroke="#888" stroke-width="0.9" stroke-dasharray="2.5 2"/>
<line x1="759.5" y1="231.5" x2="744" y2="276" stroke="#999" stroke-width="0.9" stroke-dasharray="3 2.5"/>
<line x1="767.6" y1="231.5" x2="912" y2="276" stroke="#999" stroke-width="0.9" stroke-dasharray="3 2.5"/>
<text x="746.0" y="268.3" font-size="12.0" text-anchor="middle" fill="#111">0.00</text>
<text x="981.0" y="268.3" font-size="12.0" text-anchor="middle" fill="#111">0.2 Mb</text>
<rect x="738.6" y="274.8" width="254.6" height="19.8" fill="#fff" stroke="#000" stroke-width="0.8"/>
<path d="M739.5 275L740.0 294.6M741.1 275L740.9 294.6M748.3 275L741.9 294.6M744.9 275L742.8 294.6M750.2 275L743.7 294.6M753.6 275L744.7 294.6M745.7 275L745.6 294.6M752.3 275L746.5 294.6M756.0 275L747.5 294.6M752.8 275L748.4 294.6M757.9 275L749.3 294.6M745.2 275L750.3 294.6M759.3 275L751.2 294.6M752.8 275L752.1 294.6M744.8 275L753.1 294.6M751.3 275L754.0 294.6M749.2 275L754.9 294.6M752.0 275L755.8 294.6M756.1 275L756.8 294.6M755.3 275L757.7 294.6M761.3 275L758.6 294.6M754.0 275L759.6 294.6M761.2 275L760.5 294.6M767.7 275L761.4 294.6M759.8 275L762.4 294.6M755.2 275L763.3 294.6M762.0 275L764.2 294.6M774.1 275L765.2 294.6M763.6 275L766.1 294.6M769.7 275L767.0 294.6M771.4 275L768.0 294.6M776.2 275L768.9 294.6M775.8 275L769.8 294.6M776.2 275L770.8 294.6M774.2 275L771.7 294.6M764.0 275L772.6 294.6M770.3 275L773.6 294.6M779.9 275L774.5 294.6M767.6 275L775.4 294.6M772.2 275L776.4 294.6M774.4 275L777.3 294.6M781.6 275L778.2 294.6M783.9 275L779.2 294.6M786.6 275L780.1 294.6M789.4 275L781.0 294.6M779.2 275L781.9 294.6M789.8 275L782.9 294.6M776.5 275L783.8 294.6M778.3 275L784.7 294.6M788.0 275L785.7 294.6M787.4 275L786.6 294.6M786.4 275L787.5 294.6M784.7 275L788.5 294.6M782.2 275L789.4 294.6M783.5 275L790.3 294.6M794.6 275L791.3 294.6M792.8 275L792.2 294.6M788.5 275L793.1 294.6M794.7 275L794.1 294.6M788.6 275L795.0 294.6M797.7 275L797.0 294.6M797.2 275L798.2 294.6M797.4 275L799.4 294.6M795.7 275L800.5 294.6M798.2 275L801.7 294.6M798.6 275L802.9 294.6M798.3 275L804.1 294.6M798.8 275L805.3 294.6M797.8 275L806.4 294.6M796.3 275L807.6 294.6M798.1 275L808.8 294.6M797.4 275L810.0 294.6M799.2 275L811.2 294.6M797.2 275L812.4 294.6M799.2 275L813.5 294.6M799.5 275L814.7 294.6M799.8 275L815.9 294.6M799.8 275L817.1 294.6M798.2 275L818.3 294.6M797.8 275L819.4 294.6M799.5 275L820.6 294.6M797.7 275L821.8 294.6M798.5 275L823.0 294.6M798.2 275L824.2 294.6M801.0 275L825.3 294.6M799.3 275L826.5 294.6M799.7 275L827.7 294.6M799.3 275L828.9 294.6M800.9 275L830.1 294.6M800.0 275L831.3 294.6M800.8 275L832.4 294.6M799.4 275L833.6 294.6M800.3 275L834.8 294.6M800.5 275L836.0 294.6M800.3 275L837.2 294.6M801.9 275L838.3 294.6M801.9 275L839.5 294.6M803.0 275L840.7 294.6M802.7 275L841.9 294.6M801.2 275L843.1 294.6M801.8 275L844.2 294.6M804.5 275L845.4 294.6M802.1 275L846.6 294.6M804.6 275L847.8 294.6M804.3 275L849.0 294.6M805.1 275L850.2 294.6M805.4 275L851.3 294.6M803.5 275L852.5 294.6M806.2 275L853.7 294.6M804.8 275L854.9 294.6M806.8 275L856.1 294.6M806.3 275L857.2 294.6M804.7 275L858.4 294.6M805.0 275L859.6 294.6M806.0 275L860.8 294.6M807.1 275L862.0 294.6M808.0 275L863.1 294.6M806.0 275L864.3 294.6M806.4 275L865.5 294.6M807.2 275L866.7 294.6M808.7 275L867.9 294.6M809.8 275L869.1 294.6M808.6 275L870.2 294.6M808.4 275L871.4 294.6M810.5 275L872.6 294.6M809.3 275L873.8 294.6M810.1 275L875.0 294.6M810.8 275L876.1 294.6M810.0 275L877.3 294.6M812.3 275L878.5 294.6M812.0 275L879.7 294.6M811.5 275L880.9 294.6M811.5 275L882.0 294.6M811.0 275L883.2 294.6M811.8 275L884.4 294.6M813.0 275L885.6 294.6M814.4 275L886.8 294.6M812.9 275L888.0 294.6M814.1 275L889.1 294.6M815.7 275L890.3 294.6M814.2 275L891.5 294.6M816.2 275L892.7 294.6M814.6 275L893.9 294.6M814.9 275L895.0 294.6M817.0 275L896.2 294.6M816.9 275L897.4 294.6M816.2 275L898.6 294.6M818.6 275L899.8 294.6M816.6 275L900.9 294.6M819.2 275L902.1 294.6M819.8 275L903.3 294.6M817.7 275L904.5 294.6M818.1 275L905.7 294.6M819.2 275L906.9 294.6M821.4 275L908.0 294.6M821.5 275L909.2 294.6M821.4 275L910.4 294.6M821.0 275L911.6 294.6M821.3 275L912.8 294.6M821.9 275L913.9 294.6M822.0 275L915.1 294.6M822.8 275L916.3 294.6M822.4 275L917.5 294.6M822.2 275L918.7 294.6M823.4 275L919.8 294.6M825.2 275L921.0 294.6M824.5 275L922.2 294.6M825.8 275L923.4 294.6M826.3 275L924.6 294.6M826.5 275L925.8 294.6M826.5 275L926.9 294.6M826.5 275L928.1 294.6M828.4 275L929.3 294.6M828.1 275L930.5 294.6M828.3 275L931.7 294.6M829.3 275L932.8 294.6M828.6 275L934.0 294.6M830.8 275L935.2 294.6M830.2 275L936.4 294.6M831.2 275L937.6 294.6M829.9 275L938.7 294.6M831.4 275L939.9 294.6M830.8 275L941.1 294.6M831.2 275L942.3 294.6M833.4 275L943.5 294.6M832.8 275L944.7 294.6M834.9 275L945.8 294.6M833.4 275L947.0 294.6M834.0 275L948.2 294.6M834.7 275L949.4 294.6M834.3 275L950.6 294.6M834.7 275L951.7 294.6M836.9 275L952.9 294.6M837.2 275L954.1 294.6M837.5 275L955.3 294.6M836.6 275L956.5 294.6M838.9 275L957.6 294.6M838.5 275L958.8 294.6M838.9 275L960.0 294.6M841.4 275L961.2 294.6M840.5 275L962.4 294.6M840.1 275L963.6 294.6M842.5 275L964.7 294.6M841.8 275L965.9 294.6M843.3 275L967.1 294.6M842.9 275L968.3 294.6M844.1 275L969.5 294.6M845.2 275L970.6 294.6M843.7 275L971.8 294.6M845.0 275L973.0 294.6M848.7 275L955.0 294.6M859.7 275L956.3 294.6M863.5 275L957.6 294.6M876.7 275L958.9 294.6M879.4 275L960.2 294.6M890.6 275L961.5 294.6M899.2 275L962.8 294.6M906.0 275L964.1 294.6M912.1 275L965.4 294.6M919.9 275L966.7 294.6M927.3 275L968.0 294.6M940.7 275L969.3 294.6M948.6 275L970.6 294.6M956.6 275L971.9 294.6M969.3 275L976.0 294.6M980.5 275L977.7 294.6M977.0 275L979.4 294.6M978.0 275L981.1 294.6M982.4 275L982.8 294.6M985.3 275L984.5 294.6M986.7 275L986.2 294.6M980.4 275L987.9 294.6M988.5 275L989.6 294.6M995.0 275L991.3 294.6" stroke="#000" stroke-width="0.8" fill="none"/>
<polygon points="797,294.6 800,283 830,278 975,294.6" fill="#000"/>
<defs><linearGradient id="rg" x1="0" y1="0" x2="0" y2="1"><stop offset="0" stop-color="#f52a0a"/><stop offset="1" stop-color="#f07424"/></linearGradient><linearGradient id="og" x1="0" y1="0" x2="0" y2="1"><stop offset="0" stop-color="#f26a20"/><stop offset="1" stop-color="#f3a040"/></linearGradient><linearGradient id="ck" x1="0" y1="0" x2="0" y2="1"><stop offset="0" stop-color="#ff1a00"/><stop offset="0.2" stop-color="#ff5a00"/><stop offset="0.4" stop-color="#ff9a10"/><stop offset="0.6" stop-color="#ffc800"/><stop offset="0.8" stop-color="#ffff40"/><stop offset="1" stop-color="#fffff0"/></linearGradient></defs>
<polygon points="738.6,294.6 993.2,294.6 865.9,421.0" fill="#ebe8d3"/>
<line x1="753.9" y1="304.7" x2="840.4" y2="390.7" stroke="#f4a83a" stroke-width="2.6" opacity="1.00"/>
<line x1="771.7" y1="312.3" x2="835.3" y2="375.5" stroke="#f8e050" stroke-width="1.4" opacity="1.00"/>
<line x1="769.8" y1="304.1" x2="856.4" y2="390.0" stroke="#f4ac3a" stroke-width="2.4" opacity="1.00"/>
<line x1="779.3" y1="304.7" x2="855.7" y2="380.6" stroke="#f7e060" stroke-width="1.3" opacity="1.00"/>
<line x1="779.3" y1="299.7" x2="851.9" y2="371.7" stroke="#f4b040" stroke-width="1.6" opacity="1.00"/>
<circle cx="751.3" cy="307.2" r="1.6" fill="#f04020"/>
<line x1="764.1" y1="319.9" x2="785.7" y2="298.4" stroke="#f8e870" stroke-width="1.2" opacity="0.80"/>
<line x1="795.9" y1="351.5" x2="817.5" y2="330.0" stroke="#f8e870" stroke-width="1.2" opacity="0.80"/>
<polygon points="844.3,376.8 854.4,366.7 871.0,383.1 860.8,393.2" fill="#f2a84a" opacity="0.8"/>
<polygon points="845.5,357.8 874.8,328.7 902.8,356.5 873.5,385.6" fill="#f2804a"/>
<polygon points="874.8,328.7 909.2,294.6 937.2,322.4 902.8,356.5" fill="#f6c4a0"/>
<line x1="849.4" y1="354.0" x2="877.4" y2="381.8" stroke="#fbe0b8" stroke-width="1.3" opacity="0.85"/>
<line x1="853.8" y1="349.6" x2="881.8" y2="377.4" stroke="#fbe0b8" stroke-width="1.3" opacity="0.85"/>
<line x1="858.3" y1="345.2" x2="886.3" y2="373.0" stroke="#fbe0b8" stroke-width="1.3" opacity="0.85"/>
<line x1="863.4" y1="340.1" x2="891.4" y2="367.9" stroke="#fbe0b8" stroke-width="1.3" opacity="0.85"/>
<line x1="868.4" y1="335.1" x2="896.5" y2="362.9" stroke="#fbe0b8" stroke-width="1.3" opacity="0.85"/>
<line x1="872.3" y1="331.3" x2="900.3" y2="359.1" stroke="#fbe0b8" stroke-width="1.3" opacity="0.85"/>
<line x1="878.6" y1="324.9" x2="906.6" y2="352.7" stroke="#fff4ea" stroke-width="1.6" opacity="0.85"/>
<line x1="883.7" y1="319.9" x2="911.7" y2="347.7" stroke="#fff4ea" stroke-width="1.6" opacity="0.85"/>
<line x1="888.8" y1="314.8" x2="916.8" y2="342.6" stroke="#fff4ea" stroke-width="1.6" opacity="0.85"/>
<line x1="893.9" y1="309.8" x2="921.9" y2="337.6" stroke="#fff4ea" stroke-width="1.6" opacity="0.85"/>
<line x1="899.0" y1="304.7" x2="927.0" y2="332.5" stroke="#fff4ea" stroke-width="1.6" opacity="0.85"/>
<line x1="904.1" y1="299.7" x2="932.1" y2="327.5" stroke="#fff4ea" stroke-width="1.6" opacity="0.85"/>
<polygon points="906.6,330.0 925.7,311.0 937.2,322.4 918.1,341.4" fill="#ebe8d3"/>
<line x1="854.4" y1="366.7" x2="918.1" y2="303.4" stroke="#fbe0b0" stroke-width="1.2" opacity="0.70"/>
<line x1="863.4" y1="375.5" x2="927.0" y2="312.3" stroke="#fbe0b0" stroke-width="1.2" opacity="0.70"/>
<polygon points="781.9,294.6 909.2,294.6 845.5,357.8" fill="url(#rg)"/>
<line x1="807.3" y1="294.6" x2="858.3" y2="345.2" stroke="#ffd060" stroke-width="1.1" opacity="0.75"/>
<line x1="830.3" y1="294.6" x2="869.7" y2="333.8" stroke="#ffffff" stroke-width="1.1" opacity="0.75"/>
<line x1="865.9" y1="294.6" x2="887.5" y2="316.1" stroke="#ffe080" stroke-width="1.1" opacity="0.75"/>
<line x1="886.3" y1="294.6" x2="897.7" y2="306.0" stroke="#ffffff" stroke-width="1.1" opacity="0.75"/>
<line x1="802.2" y1="314.8" x2="822.6" y2="294.6" stroke="#ffffff" stroke-width="1.0" opacity="0.70"/>
<line x1="820.1" y1="332.5" x2="858.3" y2="294.6" stroke="#ffd060" stroke-width="1.0" opacity="0.70"/>
<line x1="836.6" y1="349.0" x2="891.4" y2="294.6" stroke="#ffffff" stroke-width="1.0" opacity="0.70"/>
<polygon points="909.2,294.6 965.2,294.6 937.2,322.4" fill="#f39a88"/>
<line x1="916.8" y1="294.6" x2="941.0" y2="318.6" stroke="#ffffff" stroke-width="1.2" opacity="0.80"/>
<line x1="924.5" y1="294.6" x2="944.8" y2="314.8" stroke="#ffffff" stroke-width="1.2" opacity="0.80"/>
<line x1="932.1" y1="294.6" x2="948.6" y2="311.0" stroke="#ffffff" stroke-width="1.2" opacity="0.80"/>
<line x1="939.7" y1="294.6" x2="952.5" y2="307.2" stroke="#ffffff" stroke-width="1.2" opacity="0.80"/>
<polygon points="942.3,294.6 965.2,294.6 953.7,306.0" fill="#ec2a1a"/>
<polygon points="938.5,311.0 948.6,300.9 953.7,306.0 943.6,316.1" fill="#f04a2a" opacity="0.8"/>
<line x1="899.0" y1="365.4" x2="962.6" y2="302.2" stroke="#f0a040" stroke-width="1.2" opacity="0.90"/>
<line x1="885.0" y1="389.4" x2="971.6" y2="303.4" stroke="#f8e070" stroke-width="1.0" opacity="0.80"/>
<line x1="738.6" y1="294.6" x2="741.1" y2="297.1" stroke="#f04a2a" stroke-width="2.0" opacity="1.00"/>
<line x1="739" y1="295.6" x2="993" y2="295.6" stroke="#f06030" stroke-width="1.4" opacity="0.6"/>
<line x1="776.8" y1="332.5" x2="798.4" y2="311.0" stroke="#f8e070" stroke-width="1.0" opacity="0.70"/>
<line x1="802.2" y1="357.8" x2="823.9" y2="336.3" stroke="#f8e070" stroke-width="1.0" opacity="0.70"/>
<line x1="820.1" y1="370.4" x2="839.2" y2="351.5" stroke="#f8e070" stroke-width="1.0" opacity="0.70"/>
<rect x="968.1" y="327" width="12.4" height="105.8" fill="url(#ck)" stroke="#333" stroke-width="0.6"/>
<text transform="translate(988 432.8) rotate(-90)" font-size="6.5" text-anchor="middle" fill="#222">0</text>
<text transform="translate(988 411.6) rotate(-90)" font-size="6.5" text-anchor="middle" fill="#222">0.2</text>
<text transform="translate(988 390.5) rotate(-90)" font-size="6.5" text-anchor="middle" fill="#222">0.4</text>
<text transform="translate(988 369.3) rotate(-90)" font-size="6.5" text-anchor="middle" fill="#222">0.6</text>
<text transform="translate(988 348.2) rotate(-90)" font-size="6.5" text-anchor="middle" fill="#222">0.8</text>
<text transform="translate(988 327.0) rotate(-90)" font-size="6.5" text-anchor="middle" fill="#222">1</text>
<text transform="translate(963 372) rotate(-90)" font-size="7" text-anchor="middle" fill="#222">R<tspan dy="-3" font-size="5">2</tspan><tspan dy="3"> Color Key</tspan></text>
<text x="861.0" y="440.0" font-size="12.4" text-anchor="middle" fill="#111">Chromosome C02</text>
<text x="35.0" y="470.3" font-size="16.0" text-anchor="middle" fill="#000" font-weight="bold">c</text>
<text x="36.7" y="486.2" font-size="10.4" fill="#111">Complex regulating <tspan font-style="italic">FLC</tspan> expression</text>
<rect x="22.3" y="491.4" width="193.5" height="260" rx="30" fill="#fbe2d2"/>
<text x="31.7" y="517.8" font-size="10.5" text-anchor="start" fill="#2b77c0">Before cold</text>
<text x="31.7" y="700.2" font-size="10.5" text-anchor="start" fill="#2b77c0">After cold</text>
<text x="138.5" y="540.0" font-size="10.3" text-anchor="end" fill="#111">FRIGIDA complex</text>
<text x="138.5" y="571.7" font-size="10.3" text-anchor="end" fill="#111">COMPASS complex</text>
<text x="138.5" y="604.7" font-size="10.3" text-anchor="end" fill="#111">RAD6-BRE1 complex</text>
<text x="138.5" y="639.7" font-size="10.3" text-anchor="end" fill="#111">FACT complex</text>
<text x="138.5" y="673.1" font-size="10.3" text-anchor="end" fill="#111">PAF1 complex</text>
<text x="138.5" y="721.7" font-size="10.3" text-anchor="end" fill="#111">PRC2 complex</text>
<path d="M209.5 536.0 C214.8 536.6 232.1 536.5 241.5 539.5 C250.9 542.5 260.6 548.3 265.9 554.0 C271.2 559.7 270.3 567.1 273.2 573.6 C276.1 580.1 278.1 588.3 283.0 593.0 C287.9 597.7 294.6 599.6 302.4 601.6 C310.2 603.6 325.4 604.4 330.0 605.0" stroke="#a4a4a4" stroke-width="1.8" fill="none"/>
<path d="M209.5 571.6 C214.8 571.9 232.1 572.2 241.5 573.6 C250.9 575.0 260.2 576.9 265.9 579.7 C271.6 582.5 271.6 587.2 275.6 590.6 C279.7 594.0 281.1 598.0 290.2 600.4 C299.3 602.8 323.4 604.2 330.0 605.0" stroke="#a4a4a4" stroke-width="1.8" fill="none"/>
<path d="M209.5 605 L330 605" stroke="#a4a4a4" stroke-width="1.8" fill="none"/>
<path d="M209.5 640.5 C216.9 639.9 243.5 639.1 253.7 636.9 C263.9 634.6 266.6 630.6 270.7 627.0 C274.8 623.4 273.5 618.2 278.0 615.0 C282.5 611.8 288.8 609.4 297.5 607.7 C306.2 606.0 324.6 605.5 330.0 605.0" stroke="#a4a4a4" stroke-width="1.8" fill="none"/>
<path d="M209.5 673.0 C216.9 671.8 243.9 669.6 253.7 666.0 C263.5 662.4 264.6 657.2 268.3 651.5 C272.0 645.8 272.8 637.7 275.6 632.0 C278.5 626.3 280.1 621.2 285.4 617.4 C290.7 613.5 299.9 611.0 307.3 608.9 C314.7 606.8 326.2 605.6 330.0 605.0" stroke="#a4a4a4" stroke-width="1.8" fill="none"/>
<path d="M209.5 717.7 C216.1 716.4 239.4 714.5 248.8 710.0 C258.2 705.5 261.4 699.3 265.9 690.4 C270.4 681.5 272.0 667.0 275.6 656.4 C279.2 645.8 282.1 634.1 287.8 627.0 C293.5 619.9 301.9 616.3 309.7 613.7 C317.5 611.1 330.4 611.9 334.5 611.5" stroke="#a4a4a4" stroke-width="1.8" fill="none"/>
<polygon points="337.0,605.0 329.0,609.5 329.0,600.5" fill="#a4a4a4"/>
<line x1="336.2" y1="617.3" x2="334.8" y2="605.3" stroke="#a4a4a4" stroke-width="2.0"/>
<text x="220.0" y="534.7" font-size="8.3" text-anchor="start" fill="#22a64a" font-weight="bold">H3K36me3</text>
<text x="220.0" y="567.0" font-size="8.3" text-anchor="start" fill="#22a64a" font-weight="bold">H3K4me3</text>
<text x="220.0" y="597.0" font-size="8.3" text-anchor="start" fill="#22a64a" font-weight="bold">H2B monoUb</text>
<text x="220.0" y="620.0" font-size="8.3" text-anchor="start" fill="#22a64a" font-weight="bold">RNA pol II</text>
<text x="220.0" y="630.5" font-size="8.3" text-anchor="start" fill="#22a64a" font-weight="bold">efficiency</text>
<text x="220.0" y="680.0" font-size="8.3" text-anchor="start" fill="#22a64a" font-weight="bold">RNA pol II</text>
<text x="220.0" y="690.4" font-size="8.3" text-anchor="start" fill="#22a64a" font-weight="bold">efficiency</text>
<text x="220.0" y="724.6" font-size="8.3" text-anchor="start" fill="#c4571b" font-weight="bold">H3K27me3</text>
<text x="220.0" y="735.4" font-size="8.3" text-anchor="start" fill="#c4571b" font-weight="bold">H3K9me3</text>
<rect x="142.6" y="520.0" width="66.9" height="32.0" rx="3.5" fill="#fff" stroke="#22a64a" stroke-width="1.6"/><text x="176.1" y="533.5" font-size="12.5" text-anchor="middle" fill="#111">EFS</text><text x="176.1" y="547.5" font-size="12.5" text-anchor="middle" fill="#111">FRL1</text><circle cx="204.0" cy="525.5" r="3.7" fill="#f5101c"/><circle cx="204.0" cy="539.0" r="3.7" fill="#1cb0ee"/>
<rect x="142.6" y="559.0" width="66.9" height="24.0" rx="3.5" fill="#fff" stroke="#22a64a" stroke-width="1.6"/><text x="176.1" y="575.5" font-size="12.5" text-anchor="middle" fill="#111">ATXR7</text><circle cx="204.0" cy="564.5" r="3.7" fill="#1cb0ee"/>
<rect x="142.6" y="591.4" width="66.9" height="24.1" rx="3.5" fill="#fff" stroke="#22a64a" stroke-width="1.6"/><text x="176.1" y="608.0" font-size="12.5" text-anchor="middle" fill="#111">UBC1</text><circle cx="204.0" cy="597.5" r="3.7" fill="#f5101c"/>
<rect x="142.6" y="623.7" width="66.9" height="24.1" rx="3.5" fill="#fff" stroke="#22a64a" stroke-width="1.6"/><text x="176.1" y="640.2" font-size="12.5" text-anchor="middle" fill="#111">SSRP1</text><circle cx="204.0" cy="629.0" r="3.7" fill="#f5101c"/>
<rect x="142.6" y="655.0" width="66.9" height="31.3" rx="3.5" fill="#fff" stroke="#22a64a" stroke-width="1.6"/><text x="176.1" y="668.1" font-size="12.5" text-anchor="middle" fill="#111">ELF7</text><text x="176.1" y="682.1" font-size="12.5" text-anchor="middle" fill="#111">VIP4</text><circle cx="204.0" cy="660.4" r="3.7" fill="#1cb0ee"/><circle cx="204.0" cy="674.8" r="3.7" fill="#1cb0ee"/>
<rect x="142.6" y="706.0" width="66.9" height="24.0" rx="3.5" fill="#fff" stroke="#c4571b" stroke-width="1.6"/><text x="176.1" y="722.5" font-size="12.5" text-anchor="middle" fill="#111">VRN2</text><circle cx="204.0" cy="712.6" r="3.7" fill="#f5101c"/>
<line x1="234.0" y1="499.0" x2="210.0" y2="517.5" stroke="#a4a4a4" stroke-width="1.7"/><line x1="206.3" y1="512.7" x2="213.7" y2="522.3" stroke="#a4a4a4" stroke-width="2.0"/>
<rect x="233.8" y="484.0" width="59.2" height="32.5" rx="3.5" fill="#fff" stroke="#c4571b" stroke-width="1.6"/><text x="263.4" y="497.8" font-size="12.5" text-anchor="middle" fill="#111">CUL3</text><text x="263.4" y="511.8" font-size="12.5" text-anchor="middle" fill="#111">LRB1</text><circle cx="286.0" cy="489.0" r="3.7" fill="#f5101c"/><circle cx="286.0" cy="504.0" r="3.7" fill="#1cb0ee"/>
<rect x="301.6" y="542.8" width="53.1" height="24.1" rx="3.5" fill="#fff" stroke="#22a64a" stroke-width="1.6"/><text x="328.1" y="559.3" font-size="12.5" text-anchor="middle" fill="#111">SVP</text>
<circle cx="302.0" cy="542.6" r="7.3" fill="#3a66c2" stroke="#fff" stroke-width="0.8"/><text x="302.0" y="545.7" font-size="8.5" text-anchor="middle" fill="#fff" font-weight="bold">C</text>
<rect x="359.2" y="542.8" width="52.2" height="24.1" rx="3.5" fill="#fff" stroke="#22a64a" stroke-width="1.6"/><text x="385.3" y="559.3" font-size="12.5" text-anchor="middle" fill="#111">ICE1</text><circle cx="406.0" cy="548.9" r="3.7" fill="#f5101c"/>
<line x1="344.5" y1="576.4" x2="349.6" y2="582.6" stroke="#8da6dc" stroke-width="5.0"/><polygon points="353.8,587.6 345.0,586.4 354.2,578.8" fill="#8da6dc"/><polygon points="340.3,571.4 339.9,580.2 349.1,572.6" fill="#8da6dc"/>
<line x1="376.7" y1="571.0" x2="370.8" y2="582.3" stroke="#a4a4a4" stroke-width="1.6"/><polygon points="368.2,587.2 367.9,580.3 374.1,583.5" fill="#a4a4a4"/>
<line x1="381.7" y1="608.7" x2="419.5" y2="608.7" stroke="#a4a4a4" stroke-width="1.7"/><line x1="419.5" y1="616.7" x2="419.5" y2="600.7" stroke="#a4a4a4" stroke-width="2.0"/>
<line x1="360.0" y1="651.0" x2="360.0" y2="630.5" stroke="#a4a4a4" stroke-width="1.7"/><line x1="367.0" y1="630.5" x2="353.0" y2="630.5" stroke="#a4a4a4" stroke-width="2.0"/>
<rect x="322.9" y="651.4" width="74.8" height="23.4" rx="3.5" fill="#fff" stroke="#c4571b" stroke-width="1.6"/><text x="360.3" y="667.6" font-size="12.5" text-anchor="middle" fill="#111">COOLAIR</text>
<line x1="337.0" y1="703.0" x2="349.3" y2="685.3" stroke="#a4a4a4" stroke-width="1.7"/><polygon points="353.0,680.0 352.3,688.0 345.7,683.5" fill="#a4a4a4"/>
<line x1="388.0" y1="703.0" x2="374.9" y2="685.2" stroke="#a4a4a4" stroke-width="1.7"/><polygon points="371.0,680.0 378.4,683.3 371.9,688.0" fill="#a4a4a4"/>
<rect x="282.5" y="705.4" width="73.5" height="23.6" rx="3.5" fill="#fff" stroke="#c4571b" stroke-width="1.6"/><text x="319.2" y="721.7" font-size="12.5" text-anchor="middle" fill="#111">CSTF64</text><circle cx="347.9" cy="710.6" r="3.7" fill="#f5101c"/>
<rect x="363.6" y="705.4" width="74.8" height="23.6" rx="3.5" fill="#fff" stroke="#c4571b" stroke-width="1.6"/><text x="401.0" y="721.7" font-size="12.5" text-anchor="middle" fill="#111">CDKC;2</text><circle cx="428.7" cy="710.6" r="3.7" fill="#1cb0ee"/>
<circle cx="359.6" cy="605.6" r="19.4" fill="#10a84a"/><text x="359.6" y="611.1" font-size="14.5" text-anchor="middle" fill="#fff" font-weight="bold">FLC</text>
<circle cx="372.2" cy="592.1" r="3.8" fill="#f5101c"/>
<circle cx="440.2" cy="605.6" r="19.4" fill="#c25a15"/><text x="440.2" y="611.1" font-size="14.5" text-anchor="middle" fill="#fff" font-weight="bold">FT</text>
<rect x="459.6" y="598.8" width="97.4" height="13.9" fill="#fce7a6"/>
<text x="508.3" y="608.2" font-size="6.3" text-anchor="middle" fill="#222">Regulation of <tspan font-style="italic">FT</tspan> transcription</text>
<line x1="535.0" y1="514.0" x2="535.0" y2="521.5" stroke="#8da6dc" stroke-width="5.0"/><polygon points="535.0,528.0 528.5,521.5 541.5,521.5" fill="#8da6dc"/><polygon points="535.0,507.5 528.5,514.0 541.5,514.0" fill="#8da6dc"/>
<rect x="507.3" y="484.0" width="56.7" height="22.5" rx="3.5" fill="#fff" stroke="#22a64a" stroke-width="1.6"/><text x="535.6" y="499.8" font-size="12.5" text-anchor="middle" fill="#111">AGL18</text><circle cx="558.0" cy="489.0" r="3.7" fill="#1cb0ee"/>
<rect x="449.8" y="530.2" width="54.0" height="23.3" rx="3.5" fill="#fff" stroke="#22a64a" stroke-width="1.6"/><text x="476.8" y="546.4" font-size="12.5" text-anchor="middle" fill="#111">COL5</text><circle cx="497.9" cy="536.0" r="3.7" fill="#1cb0ee"/>
<rect x="507.3" y="530.2" width="57.4" height="23.3" rx="3.5" fill="#fff" stroke="#22a64a" stroke-width="1.6"/><text x="536.0" y="546.4" font-size="12.5" text-anchor="middle" fill="#111">AFR2</text>
<line x1="479.0" y1="557.0" x2="479.0" y2="588.0" stroke="#a4a4a4" stroke-width="1.7"/><polygon points="479.0,594.5 475.0,587.5 483.0,587.5" fill="#a4a4a4"/>
<line x1="532.7" y1="557.0" x2="532.7" y2="593.6" stroke="#a4a4a4" stroke-width="1.7"/><line x1="525.7" y1="593.6" x2="539.7" y2="593.6" stroke="#a4a4a4" stroke-width="2.0"/>
<line x1="479.8" y1="650.0" x2="479.8" y2="617.5" stroke="#a4a4a4" stroke-width="1.7"/><line x1="486.8" y1="617.5" x2="472.8" y2="617.5" stroke="#a4a4a4" stroke-width="2.0"/>
<line x1="532.7" y1="650.0" x2="532.7" y2="623.5" stroke="#a4a4a4" stroke-width="1.7"/><polygon points="532.7,617.0 536.7,624.0 528.7,624.0" fill="#a4a4a4"/>
<line x1="498.0" y1="663.5" x2="513.0" y2="663.5" stroke="#a4a4a4" stroke-width="1.7"/><line x1="513.0" y1="670.5" x2="513.0" y2="656.5" stroke="#a4a4a4" stroke-width="2.0"/>
<rect x="445.7" y="651.7" width="52.2" height="23.7" rx="3.5" fill="#fff" stroke="#22a64a" stroke-width="1.6"/><text x="471.8" y="668.0" font-size="12.5" text-anchor="middle" fill="#111">PHYB</text>
<circle cx="446.0" cy="652.5" r="7.3" fill="#ee1010" stroke="#fff" stroke-width="0.8"/><text x="446.0" y="655.6" font-size="8.5" text-anchor="middle" fill="#fff" font-weight="bold">R</text>
<rect x="514.6" y="651.7" width="45.2" height="23.7" rx="3.5" fill="#fff" stroke="#c4571b" stroke-width="1.6"/><text x="537.2" y="668.0" font-size="12.5" text-anchor="middle" fill="#111">PIF4</text>
<line x1="575.5" y1="688.0" x2="575.5" y2="629.4" stroke="#a4a4a4" stroke-width="1.7"/><line x1="582.5" y1="629.4" x2="568.5" y2="629.4" stroke="#a4a4a4" stroke-width="2.0"/>
<line x1="532.7" y1="700.0" x2="532.7" y2="685.5" stroke="#a4a4a4" stroke-width="1.7"/><polygon points="532.7,679.0 536.7,686.0 528.7,686.0" fill="#a4a4a4"/>
<line x1="540.0" y1="708.0" x2="551.8" y2="708.0" stroke="#a4a4a4" stroke-width="1.7"/><line x1="551.8" y1="715.0" x2="551.8" y2="701.0" stroke="#a4a4a4" stroke-width="2.0"/>
<text x="445.7" y="712.1" font-size="12.3" text-anchor="start" fill="#111">Low temperature</text>
<circle cx="575.5" cy="605.7" r="19.2" fill="#c25a15"/><text x="575.5" y="611.2" font-size="14.5" text-anchor="middle" fill="#fff" font-weight="bold">FT</text>
<circle cx="575.5" cy="708.4" r="19.2" fill="#10a84a"/><text x="575.5" y="713.9" font-size="14.5" text-anchor="middle" fill="#fff" font-weight="bold">SVP</text>
<circle cx="561.6" cy="692.8" r="7.3" fill="#3a66c2" stroke="#fff" stroke-width="0.8"/><text x="561.6" y="695.9" font-size="8.5" text-anchor="middle" fill="#fff" font-weight="bold">C</text>
<path d="M595 605 C605 600 610 612 620 611 C632 610 638 600 652 604" stroke="#a4a4a4" stroke-width="1.8" fill="none"/>
<polygon points="661.0,605.5 651.6,609.1 652.5,600.1" fill="#a4a4a4"/>
<text x="626.0" y="587.0" font-size="8.4" text-anchor="middle" fill="#111">Long distance</text>
<text x="626.0" y="597.5" font-size="8.4" text-anchor="middle" fill="#111">transport</text>
<line x1="626.0" y1="648.0" x2="626.0" y2="619.5" stroke="#a4a4a4" stroke-width="1.7"/><polygon points="626.0,613.0 630.0,620.0 622.0,620.0" fill="#a4a4a4"/>
<rect x="600.5" y="651.7" width="52.3" height="23.7" rx="3.5" fill="#fff" stroke="#c4571b" stroke-width="1.6"/><text x="626.6" y="668.0" font-size="12.5" text-anchor="middle" fill="#111">FTIP1</text><circle cx="647.5" cy="658.0" r="3.7" fill="#1cb0ee"/>
<rect x="658.0" y="540.7" width="45.2" height="22.6" rx="3.5" fill="#fff" stroke="#c4571b" stroke-width="1.6"/><text x="680.6" y="556.5" font-size="12.5" text-anchor="middle" fill="#111">FDP</text>
<line x1="680.6" y1="572.0" x2="680.6" y2="579.5" stroke="#8da6dc" stroke-width="5.0"/><polygon points="680.6,586.0 674.1,579.5 687.1,579.5" fill="#8da6dc"/><polygon points="680.6,565.5 674.1,572.0 687.1,572.0" fill="#8da6dc"/>
<circle cx="680.5" cy="605.8" r="19.5" fill="#c25a15"/><text x="680.5" y="611.3" font-size="14.5" text-anchor="middle" fill="#fff" font-weight="bold">FT</text>
<line x1="680.0" y1="695.0" x2="680.0" y2="633.5" stroke="#a4a4a4" stroke-width="1.7"/><polygon points="680.0,627.0 684.0,634.0 676.0,634.0" fill="#a4a4a4"/>
<line x1="641.0" y1="742.0" x2="655.7" y2="731.7" stroke="#a4a4a4" stroke-width="1.7"/><polygon points="661.0,728.0 657.6,735.3 653.0,728.7" fill="#a4a4a4"/>
<rect x="586.6" y="743.2" width="52.2" height="22.7" rx="3.5" fill="#fff" stroke="#c4571b" stroke-width="1.6"/><text x="612.7" y="759.0" font-size="12.5" text-anchor="middle" fill="#111">PRR7</text><circle cx="633.6" cy="748.5" r="3.7" fill="#f5101c"/>
<circle cx="587.3" cy="744.0" r="7.3" fill="#3a66c2" stroke="#fff" stroke-width="0.8"/><text x="587.3" y="747.1" font-size="8.5" text-anchor="middle" fill="#fff" font-weight="bold">C</text>
<line x1="733.0" y1="715.5" x2="702.7" y2="715.5" stroke="#a4a4a4" stroke-width="1.7"/><line x1="702.7" y1="708.5" x2="702.7" y2="722.5" stroke="#a4a4a4" stroke-width="2.0"/>
<line x1="735.0" y1="754.0" x2="688.0" y2="754.0" stroke="#a4a4a4" stroke-width="1.7"/><line x1="688.0" y1="747.0" x2="688.0" y2="761.0" stroke="#a4a4a4" stroke-width="2.0"/>
<line x1="679.7" y1="770.0" x2="679.7" y2="740.7" stroke="#a4a4a4" stroke-width="1.7"/><line x1="686.7" y1="740.7" x2="672.7" y2="740.7" stroke="#a4a4a4" stroke-width="2.0"/>
<circle cx="680.0" cy="715.5" r="19.5" fill="#c25a15"/><text x="680.0" y="721.0" font-size="14.5" text-anchor="middle" fill="#fff" font-weight="bold">CO</text>
<circle cx="664.3" cy="701.5" r="7.3" fill="#3a66c2" stroke="#fff" stroke-width="0.8"/><text x="664.3" y="704.6" font-size="8.5" text-anchor="middle" fill="#fff" font-weight="bold">C</text>
<rect x="734.0" y="705.2" width="53.0" height="23.8" rx="3.5" fill="#fff" stroke="#22a64a" stroke-width="1.6"/><text x="760.5" y="721.6" font-size="12.5" text-anchor="middle" fill="#111">COP1</text>
<circle cx="735.2" cy="704.8" r="7.3" fill="#3a66c2" stroke="#fff" stroke-width="0.8"/><text x="735.2" y="707.9" font-size="8.5" text-anchor="middle" fill="#fff" font-weight="bold">C</text>
<line x1="795.5" y1="717.0" x2="803.5" y2="717.0" stroke="#8da6dc" stroke-width="5.0"/><polygon points="810.0,717.0 803.5,723.5 803.5,710.5" fill="#8da6dc"/><polygon points="789.0,717.0 795.5,723.5 795.5,710.5" fill="#8da6dc"/>
<rect x="811.3" y="705.2" width="50.9" height="23.8" rx="3.5" fill="#fff" stroke="#22a64a" stroke-width="1.6"/><text x="836.8" y="721.6" font-size="12.5" text-anchor="middle" fill="#111">SPA3</text><circle cx="856.0" cy="711.0" r="3.7" fill="#f5101c"/>
<rect x="736.0" y="742.8" width="51.0" height="23.8" rx="3.5" fill="#fff" stroke="#c4571b" stroke-width="1.6"/><text x="761.5" y="759.2" font-size="12.5" text-anchor="middle" fill="#111">PHL</text><circle cx="781.0" cy="747.8" r="3.7" fill="#f5101c"/>
<rect x="653.8" y="771.6" width="51.8" height="24.2" rx="3.5" fill="#fff" stroke="#22a64a" stroke-width="1.6"/><text x="679.7" y="788.2" font-size="12.5" text-anchor="middle" fill="#111">PHYB</text>
<circle cx="653.8" cy="770.0" r="7.3" fill="#ee1010" stroke="#fff" stroke-width="0.8"/><text x="653.8" y="773.1" font-size="8.5" text-anchor="middle" fill="#fff" font-weight="bold">R</text>
<path d="M700 604 C712 600 710 572 714 568" stroke="#a4a4a4" stroke-width="1.8" fill="none"/>
<polygon points="719.0,566.0 714.5,572.7 711.0,565.6" fill="#a4a4a4"/>
<line x1="700.0" y1="605.0" x2="792.5" y2="605.0" stroke="#a4a4a4" stroke-width="1.7"/><polygon points="799.0,605.0 792.0,609.0 792.0,601.0" fill="#a4a4a4"/>
<line x1="774.0" y1="566.7" x2="792.5" y2="566.7" stroke="#a4a4a4" stroke-width="1.7"/><polygon points="799.0,566.7 792.0,570.7 792.0,562.7" fill="#a4a4a4"/>
<path d="M746 554 C746 540 750 532 754 530" stroke="#a4a4a4" stroke-width="1.8" fill="none"/>
<polygon points="759.0,527.5 755.1,534.5 750.9,527.7" fill="#a4a4a4"/>
<path d="M814 527 C820 530 823 540 823 547" stroke="#a4a4a4" stroke-width="1.8" fill="none"/>
<polygon points="823.0,554.0 819.0,547.0 827.0,547.0" fill="#a4a4a4"/>
<path d="M846 566 C858 568 858 590 862 598 C865 603 868 604 872 604" stroke="#a4a4a4" stroke-width="1.8" fill="none"/>
<line x1="846.0" y1="604.0" x2="869.5" y2="604.0" stroke="#a4a4a4" stroke-width="1.7"/><polygon points="876.0,604.0 869.0,608.0 869.0,600.0" fill="#a4a4a4"/>
<line x1="895.6" y1="510.0" x2="895.6" y2="531.8" stroke="#a4a4a4" stroke-width="1.7"/><line x1="888.6" y1="531.8" x2="902.6" y2="531.8" stroke="#a4a4a4" stroke-width="2.0"/>
<line x1="946.0" y1="510.0" x2="946.0" y2="529.0" stroke="#a4a4a4" stroke-width="1.7"/><polygon points="946.0,535.5 942.0,528.5 950.0,528.5" fill="#a4a4a4"/>
<line x1="924.0" y1="562.0" x2="924.0" y2="574.0" stroke="#a4a4a4" stroke-width="1.7"/><polygon points="924.0,580.5 920.0,573.5 928.0,573.5" fill="#a4a4a4"/>
<line x1="924.0" y1="644.0" x2="924.0" y2="633.5" stroke="#a4a4a4" stroke-width="1.7"/><polygon points="924.0,627.0 928.0,634.0 920.0,634.0" fill="#a4a4a4"/>
<rect x="719.4" y="554.8" width="54.3" height="23.8" rx="3.5" fill="#fff" stroke="#c4571b" stroke-width="1.6"/><text x="746.5" y="571.2" font-size="12.5" text-anchor="middle" fill="#111">SOC1</text>
<rect x="759.9" y="516.0" width="53.5" height="23.0" rx="3.5" fill="#fff" stroke="#c4571b" stroke-width="1.6"/><text x="786.6" y="532.0" font-size="12.5" text-anchor="middle" fill="#111">SPL5</text><circle cx="806.0" cy="521.0" r="3.7" fill="#f5101c"/>
<rect x="800.8" y="554.8" width="45.2" height="23.8" rx="3.5" fill="#fff" stroke="#c4571b" stroke-width="1.6"/><text x="823.4" y="571.2" font-size="12.5" text-anchor="middle" fill="#111">LFY</text>
<rect x="800.8" y="592.4" width="45.2" height="23.8" rx="3.5" fill="#fff" stroke="#c4571b" stroke-width="1.6"/><text x="823.4" y="608.8" font-size="12.5" text-anchor="middle" fill="#111">AP1</text>
<rect x="854.3" y="484.6" width="66.4" height="24.2" rx="3.5" fill="#fff" stroke="#22a64a" stroke-width="1.6"/><text x="887.5" y="501.2" font-size="12.5" text-anchor="middle" fill="#111">GA2ox2</text><circle cx="913.6" cy="489.6" r="3.7" fill="#f5101c"/>
<rect x="924.0" y="484.6" width="62.7" height="24.2" rx="3.5" fill="#fff" stroke="#c4571b" stroke-width="1.6"/><text x="955.4" y="501.2" font-size="12.5" text-anchor="middle" fill="#111">GA3ox2</text><circle cx="980.4" cy="489.6" r="3.7" fill="#1cb0ee"/>
<rect x="894.8" y="645.4" width="58.5" height="24.3" rx="3.5" fill="#fff" stroke="#c4571b" stroke-width="1.6"/><text x="924.0" y="662.0" font-size="12.5" text-anchor="middle" fill="#111">AGL19</text><circle cx="947.0" cy="650.9" r="3.7" fill="#f5101c"/>
<defs><linearGradient id="gag" x1="0" y1="0" x2="1" y2="1"><stop offset="0" stop-color="#c81cc0"/><stop offset="1" stop-color="#f040f0"/></linearGradient></defs>
<polygon points="898,536.8 948,536.8 955.4,549.3 948,561.9 898,561.9 890.6,549.3" fill="url(#gag)"/>
<text x="923.0" y="553.8" font-size="12.5" text-anchor="middle" fill="#fff">GAs</text>
<path d="M884.3 582.0 H963.0 A7 7 0 0 0 970.0 589.0 V618.4 A7 7 0 0 0 963.0 625.4 H884.3 A7 7 0 0 0 877.3 618.4 V589.0 A7 7 0 0 0 884.3 582.0 Z" fill="#4673c6" stroke="#3a62b0" stroke-width="0.8"/>
<text x="923.6" y="609.0" font-size="14.8" text-anchor="middle" fill="#fff">Flowering</text>
<line x1="29.8" y1="775.75" x2="42.7" y2="775.75" stroke="#a4a4a4" stroke-width="1.8"/><line x1="42.7" y1="769.5" x2="42.7" y2="782" stroke="#a4a4a4" stroke-width="2"/>
<text x="45.5" y="778.7" font-size="8.3" text-anchor="start" fill="#111">Negative regulation</text>
<line x1="132.7" y1="775.8" x2="141.5" y2="775.8" stroke="#a4a4a4" stroke-width="1.7"/><polygon points="148.0,775.8 141.0,780.2 141.0,771.2" fill="#a4a4a4"/>
<text x="150.6" y="778.7" font-size="8.3" text-anchor="start" fill="#111">Positive regulation</text>
<path d="M231.8 774 C236 771 239 771 242 774.5 C245 778 248 778 251 774" stroke="#a4a4a4" stroke-width="1.8" fill="none"/>
<polygon points="258.0,772.5 250.4,779.0 248.2,770.3" fill="#a4a4a4"/>
<text x="261.5" y="778.7" font-size="8.3" text-anchor="start" fill="#111">Long distance transport</text>
<line x1="36.8" y1="793.0" x2="36.8" y2="800.5" stroke="#8da6dc" stroke-width="4.5"/><polygon points="36.8,806.5 31.3,800.5 42.3,800.5" fill="#8da6dc"/><polygon points="36.8,787.0 31.3,793.0 42.3,793.0" fill="#8da6dc"/>
<text x="45.5" y="799.7" font-size="8.3" text-anchor="start" fill="#111">Protein-protein interaction</text>
<circle cx="153.7" cy="796.75" r="6.2" fill="#ee1010"/><text x="153.7" y="799.6" font-size="7.5" text-anchor="middle" fill="#fff" font-weight="bold">R</text>
<text x="162.8" y="799.7" font-size="8.3" text-anchor="start" fill="#111">Induced by red light</text>
<circle cx="250.3" cy="796.75" r="6.2" fill="#1a6cc0"/><text x="250.3" y="799.6" font-size="7.5" text-anchor="middle" fill="#fff" font-weight="bold">C</text>
<text x="259.0" y="799.7" font-size="8.3" text-anchor="start" fill="#111">Circadian-clock regulated</text>
</svg></body></html>
